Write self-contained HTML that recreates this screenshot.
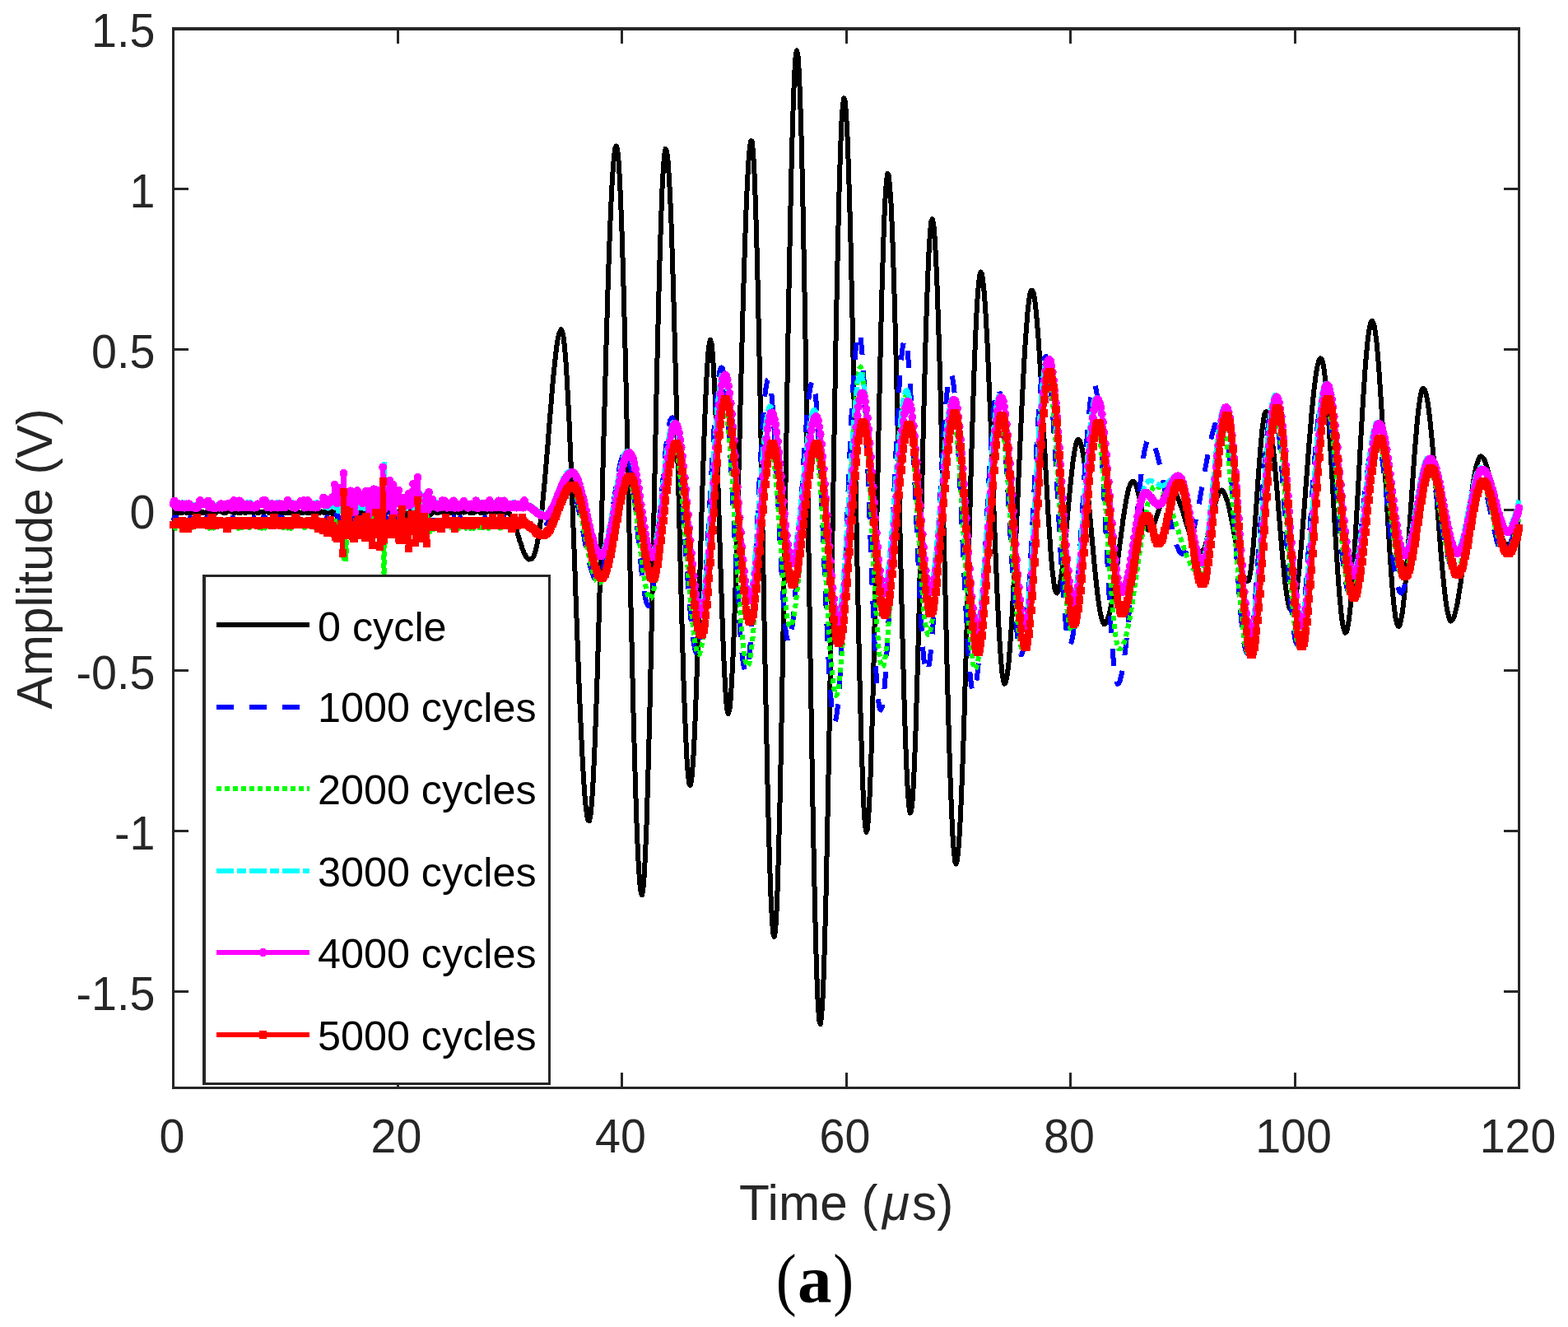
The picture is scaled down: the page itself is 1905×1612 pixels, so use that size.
<!DOCTYPE html>
<html lang="en">
<head>
<meta charset="utf-8">
<title>Amplitude vs. Time</title>
<style>
html,body{margin:0;padding:0;background:#fff;}
body{width:1905px;height:1612px;overflow:hidden;}
svg{display:block;}
</style>
</head>
<body>
<svg width="1905" height="1612" viewBox="0 0 1905 1612" role="img" aria-label="Amplitude (V) versus Time for 0 to 5000 cycles">
<defs>
<marker id="mc" markerUnits="userSpaceOnUse" markerWidth="12" markerHeight="12" refX="6" refY="6"><circle cx="6" cy="6" r="5" fill="#ff00ff" shape-rendering="crispEdges"/></marker>
<marker id="ms" markerUnits="userSpaceOnUse" markerWidth="12" markerHeight="12" refX="6" refY="6"><rect x="1.3" y="1.3" width="9.4" height="9.4" fill="#ff0000" shape-rendering="crispEdges"/></marker>
</defs>
<rect width="1905" height="1612" fill="#ffffff"/>
<g fill="none" stroke="#262626" stroke-width="3" shape-rendering="crispEdges">
<rect x="210.5" y="34.5" width="1635.0" height="1287.0"/>
<path d="M210.5 1321.5v-18.5M210.5 34.5v18.5M483.0 1321.5v-18.5M483.0 34.5v18.5M755.5 1321.5v-18.5M755.5 34.5v18.5M1028.0 1321.5v-18.5M1028.0 34.5v18.5M1300.5 1321.5v-18.5M1300.5 34.5v18.5M1573.0 1321.5v-18.5M1573.0 34.5v18.5M1845.5 1321.5v-18.5M1845.5 34.5v18.5M210.5 34.5h18.5M1845.5 34.5h-18.5M210.5 229.5h18.5M1845.5 229.5h-18.5M210.5 424.5h18.5M1845.5 424.5h-18.5M210.5 619.5h18.5M1845.5 619.5h-18.5M210.5 814.5h18.5M1845.5 814.5h-18.5M210.5 1009.5h18.5M1845.5 1009.5h-18.5M210.5 1204.5h18.5M1845.5 1204.5h-18.5"/>
<path d="M209.0 36.5H1847.0" stroke-width="1"/>
</g>
<g fill="none" stroke-linejoin="round" shape-rendering="crispEdges">
<polyline stroke="#000000" stroke-width="6" points="210.5,621.6 211.9,621.4 213.2,623.0 214.6,622.9 215.9,621.5 217.3,623.0 218.7,621.5 220.0,622.9 221.4,623.1 222.8,621.4 224.1,621.2 225.5,621.3 226.8,623.0 228.2,622.8 229.6,621.8 230.9,623.2 232.3,621.4 233.7,623.0 235.0,622.9 236.4,621.2 237.8,623.2 239.1,623.0 240.5,621.3 241.8,623.2 243.2,622.7 244.6,622.9 245.9,621.7 247.3,623.0 248.7,623.0 250.0,622.9 251.4,621.7 252.7,621.6 254.1,621.5 255.5,622.9 256.8,622.7 258.2,621.8 259.6,621.4 260.9,621.6 262.3,623.0 263.6,621.5 265.0,621.5 266.4,621.3 267.7,621.4 269.1,621.7 270.4,621.3 271.8,623.1 273.2,623.0 274.5,622.8 275.9,621.4 277.3,621.4 278.6,621.3 280.0,621.4 281.4,621.7 282.7,622.7 284.1,621.7 285.4,622.9 286.8,621.3 288.2,622.6 289.5,622.6 290.9,622.8 292.2,623.0 293.6,621.5 295.0,621.3 296.3,621.4 297.7,623.2 299.1,621.7 300.4,621.6 301.8,621.5 303.1,621.7 304.5,621.5 305.9,621.7 307.2,623.0 308.6,622.8 310.0,621.7 311.3,621.7 312.7,623.0 314.1,621.7 315.4,622.7 316.8,621.5 318.1,621.7 319.5,623.1 320.9,621.8 322.2,621.6 323.6,621.2 324.9,621.3 326.3,622.8 327.7,621.6 329.0,621.6 330.4,623.2 331.8,623.1 333.1,623.1 334.5,621.4 335.9,621.7 337.2,621.5 338.6,621.2 339.9,621.7 341.3,623.2 342.7,622.7 344.0,622.6 345.4,621.5 346.8,623.0 348.1,621.5 349.5,622.7 350.8,621.7 352.2,623.1 353.6,621.7 354.9,621.7 356.3,621.3 357.6,622.8 359.0,621.5 360.4,623.1 361.7,621.8 363.1,623.1 364.5,622.8 365.8,622.9 367.2,622.9 368.6,622.9 369.9,621.6 371.3,621.3 372.6,623.1 374.0,621.7 375.4,623.1 376.7,621.8 378.1,622.9 379.4,621.5 380.8,621.7 382.2,621.4 383.5,623.0 384.9,622.9 386.3,623.1 387.6,621.5 389.0,622.6 390.4,621.4 391.7,621.7 393.1,622.6 394.4,623.3 395.8,621.8 397.2,619.7 398.5,619.8 399.9,622.8 401.2,622.0 402.6,621.3 404.0,624.2 405.3,621.7 406.7,622.7 408.1,622.5 409.4,627.3 410.8,622.1 412.1,620.4 413.5,617.6 414.9,619.6 416.2,623.2 417.6,624.1 419.0,627.3 420.3,626.2 421.7,625.6 423.1,623.8 424.4,625.9 425.8,622.4 427.1,624.9 428.5,626.1 429.9,622.8 431.2,625.2 432.6,624.0 433.9,621.7 435.3,627.0 436.7,622.0 438.0,621.1 439.4,620.2 440.8,621.0 442.1,625.8 443.5,620.1 444.9,624.5 446.2,623.4 447.6,620.8 448.9,625.7 450.3,622.1 451.7,621.3 453.0,619.7 454.4,626.5 455.8,623.4 457.1,617.0 458.5,621.0 459.8,624.2 461.2,619.8 462.6,622.5 463.9,627.9 465.3,619.0 466.6,618.9 468.0,621.7 469.4,618.9 470.7,620.6 472.1,619.4 473.5,622.7 474.8,617.4 476.2,621.6 477.6,622.3 478.9,623.1 480.3,627.5 481.6,627.1 483.0,622.1 484.4,625.0 485.7,619.8 487.1,625.2 488.4,625.8 489.8,624.9 491.2,624.4 492.5,628.2 493.9,622.4 495.3,623.3 496.6,625.2 498.0,621.5 499.4,621.1 500.7,622.8 502.1,623.9 503.4,621.9 504.8,619.3 506.2,620.3 507.5,620.9 508.9,624.6 510.2,618.0 511.6,628.1 513.0,621.0 514.3,622.0 515.7,622.5 517.1,623.7 518.4,619.8 519.8,620.8 521.1,626.1 522.5,625.7 523.9,624.5 525.2,623.1 526.6,621.2 528.0,621.5 529.3,621.5 530.7,623.0 532.0,621.5 533.4,622.7 534.8,621.6 536.1,621.6 537.5,621.7 538.9,621.5 540.2,623.1 541.6,623.1 543.0,622.6 544.3,621.5 545.7,623.0 547.0,621.4 548.4,622.9 549.8,623.1 551.1,623.0 552.5,622.8 553.9,621.8 555.2,621.4 556.6,623.2 557.9,621.3 559.3,622.8 560.7,621.4 562.0,621.8 563.4,622.6 564.8,621.3 566.1,621.7 567.5,621.3 568.8,621.5 570.2,622.9 571.6,622.9 572.9,621.7 574.3,622.9 575.6,622.8 577.0,621.2 578.4,621.7 579.7,621.3 581.1,621.4 582.5,621.4 583.8,623.0 585.2,622.7 586.5,622.7 587.9,621.5 589.3,623.0 590.6,622.6 592.0,621.5 593.4,621.2 594.7,621.5 596.1,621.2 597.5,621.6 598.8,623.2 600.2,623.1 601.5,622.9 602.9,621.2 604.3,621.6 605.6,622.6 607.0,621.4 608.4,621.7 609.7,621.4 611.1,621.8 612.4,621.6 613.8,621.5 615.2,622.7 616.5,622.2 617.9,623.2 619.2,624.3 620.6,626.3 622.0,628.9 623.3,632.0 624.7,635.2 626.1,639.1 627.4,643.4 628.8,647.9 630.1,652.5 631.5,657.2 632.9,661.0 634.2,665.1 635.6,669.2 637.0,672.6 638.3,674.5 639.7,677.2 641.0,678.2 642.4,679.6 643.8,678.9 645.1,679.2 646.5,678.3 647.9,676.6 649.2,673.9 650.6,669.6 652.0,663.9 653.3,656.9 654.7,648.1 656.0,639.1 657.4,628.1 658.8,616.0 660.1,601.7 661.5,587.6 662.9,571.4 664.2,556.0 665.6,539.4 666.9,521.9 668.3,505.2 669.7,488.5 671.0,472.0 672.4,456.6 673.8,443.5 675.1,430.6 676.5,419.7 677.8,411.4 679.2,405.6 680.6,401.8 681.9,400.1 683.3,403.1 684.6,409.5 686.0,421.9 687.4,438.0 688.7,459.1 690.1,484.6 691.5,511.8 692.8,543.8 694.2,577.4 695.5,613.8 696.9,651.0 698.3,687.9 699.6,726.3 701.0,764.8 702.4,800.7 703.7,835.5 705.1,869.1 706.5,898.7 707.8,925.0 709.2,948.4 710.5,967.2 711.9,981.8 713.3,991.9 714.6,996.6 716.0,997.3 717.4,991.4 718.7,978.0 720.1,958.9 721.4,932.7 722.8,901.4 724.2,864.8 725.5,825.0 726.9,779.0 728.2,731.3 729.6,681.1 731.0,629.2 732.3,576.4 733.7,523.7 735.1,472.7 736.4,422.7 737.8,376.3 739.1,332.1 740.5,293.7 741.9,258.7 743.2,230.2 744.6,207.3 746.0,190.2 747.3,180.4 748.7,177.4 750.0,180.7 751.4,193.7 752.8,215.8 754.1,244.3 755.5,280.7 756.9,324.5 758.2,373.4 759.6,426.6 761.0,485.0 762.3,545.1 763.7,608.1 765.0,670.6 766.4,733.0 767.8,792.2 769.1,850.3 770.5,902.4 771.9,950.9 773.2,992.1 774.6,1027.5 775.9,1053.8 777.3,1073.1 778.7,1084.4 780.0,1087.2 781.4,1079.5 782.8,1062.8 784.1,1036.5 785.5,1002.4 786.8,959.8 788.2,910.9 789.6,855.3 790.9,794.9 792.3,730.9 793.6,665.2 795.0,599.9 796.4,533.8 797.7,469.9 799.1,410.7 800.5,354.8 801.8,306.0 803.2,264.3 804.5,229.2 805.9,203.7 807.3,187.4 808.6,180.8 810.0,183.5 811.4,194.0 812.7,212.4 814.1,237.9 815.5,271.3 816.8,310.2 818.2,355.0 819.5,403.4 820.9,456.0 822.3,510.4 823.6,566.8 825.0,622.0 826.4,677.1 827.7,729.5 829.1,778.5 830.4,823.2 831.8,862.4 833.2,895.2 834.5,921.9 835.9,940.8 837.2,951.2 838.6,954.1 840.0,948.9 841.3,935.1 842.7,914.7 844.1,886.8 845.4,853.0 846.8,814.0 848.1,771.4 849.5,725.6 850.9,678.9 852.2,632.3 853.6,587.7 855.0,545.1 856.3,507.7 857.7,475.1 859.0,448.4 860.4,428.4 861.8,417.4 863.1,412.8 864.5,417.5 865.9,431.0 867.2,452.5 868.6,480.8 870.0,516.1 871.3,555.8 872.7,598.1 874.0,642.5 875.4,687.2 876.8,730.1 878.1,769.2 879.5,802.7 880.9,830.8 882.2,851.7 883.6,864.0 884.9,867.1 886.3,862.4 887.7,849.7 889.0,828.5 890.4,800.7 891.8,767.1 893.1,726.9 894.5,682.5 895.8,633.4 897.2,582.3 898.6,530.1 899.9,476.2 901.3,424.6 902.6,374.4 904.0,328.4 905.4,286.5 906.7,250.1 908.1,219.3 909.5,195.0 910.8,179.3 912.2,171.2 913.5,171.5 914.9,182.9 916.3,205.9 917.6,239.2 919.0,281.8 920.4,334.0 921.7,395.0 923.1,460.3 924.5,532.1 925.8,605.0 927.2,680.5 928.5,754.4 929.9,826.3 931.3,894.4 932.6,957.0 934.0,1011.7 935.4,1057.4 936.7,1093.8 938.1,1120.0 939.4,1134.6 940.8,1137.9 942.2,1128.9 943.5,1106.9 944.9,1073.2 946.2,1026.7 947.6,971.4 949.0,906.7 950.3,834.2 951.7,756.7 953.1,675.0 954.4,592.6 955.8,508.8 957.1,427.5 958.5,351.2 959.9,280.4 961.2,217.6 962.6,163.4 964.0,119.3 965.3,88.1 966.7,67.4 968.0,61.2 969.4,66.7 970.8,87.3 972.1,119.1 973.5,164.5 974.9,220.4 976.2,286.2 977.6,359.5 979.0,440.7 980.3,526.0 981.7,615.3 983.0,705.1 984.4,792.7 985.8,877.9 987.1,957.9 988.5,1030.2 989.9,1094.8 991.2,1149.0 992.6,1192.3 993.9,1222.5 995.3,1240.0 996.7,1244.4 998.0,1235.6 999.4,1215.1 1000.8,1183.4 1002.1,1140.3 1003.5,1088.5 1004.8,1026.8 1006.2,958.1 1007.6,883.1 1008.9,803.3 1010.3,722.4 1011.6,639.7 1013.0,556.9 1014.4,478.3 1015.7,404.0 1017.1,334.9 1018.5,274.2 1019.8,221.6 1021.2,179.1 1022.5,147.8 1023.9,127.6 1025.3,119.3 1026.6,122.3 1028.0,137.4 1029.4,162.9 1030.7,197.8 1032.1,242.1 1033.5,294.0 1034.8,353.5 1036.2,416.9 1037.5,485.1 1038.9,554.6 1040.3,624.3 1041.6,692.7 1043.0,758.2 1044.3,818.9 1045.7,873.4 1047.1,919.6 1048.4,957.5 1049.8,986.6 1051.2,1004.6 1052.5,1010.8 1053.9,1006.9 1055.2,992.3 1056.6,966.6 1058.0,932.5 1059.3,889.3 1060.7,838.8 1062.1,781.4 1063.4,719.6 1064.8,654.9 1066.2,589.8 1067.5,524.1 1068.9,461.3 1070.2,402.8 1071.6,349.3 1073.0,302.8 1074.3,265.7 1075.7,237.6 1077.0,218.8 1078.4,210.8 1079.8,213.5 1081.1,226.6 1082.5,246.8 1083.9,277.2 1085.2,314.2 1086.6,359.3 1088.0,410.1 1089.3,464.3 1090.7,522.7 1092.0,583.3 1093.4,643.8 1094.8,703.2 1096.1,759.9 1097.5,812.5 1098.8,861.0 1100.2,902.1 1101.6,936.6 1102.9,962.2 1104.3,979.0 1105.7,987.6 1107.0,985.1 1108.4,974.8 1109.8,954.0 1111.1,925.2 1112.5,888.3 1113.8,844.7 1115.2,796.1 1116.6,742.1 1117.9,685.6 1119.3,626.9 1120.7,569.1 1122.0,512.5 1123.4,458.9 1124.7,409.5 1126.1,365.6 1127.5,329.1 1128.8,300.1 1130.2,279.5 1131.5,268.5 1132.9,266.2 1134.3,272.7 1135.6,288.1 1137.0,312.5 1138.4,343.4 1139.7,381.1 1141.1,424.4 1142.5,474.1 1143.8,527.1 1145.2,582.7 1146.5,640.0 1147.9,697.7 1149.3,755.9 1150.6,810.8 1152.0,862.2 1153.3,908.9 1154.7,950.8 1156.1,986.3 1157.4,1013.9 1158.8,1033.6 1160.2,1046.6 1161.5,1049.6 1162.9,1045.6 1164.2,1034.1 1165.6,1015.1 1167.0,990.8 1168.3,959.4 1169.7,923.5 1171.1,883.4 1172.4,838.3 1173.8,790.4 1175.2,740.1 1176.5,690.1 1177.9,639.2 1179.2,589.5 1180.6,541.9 1182.0,497.5 1183.3,456.0 1184.7,420.1 1186.0,389.3 1187.4,364.7 1188.8,346.6 1190.1,334.8 1191.5,330.5 1192.9,332.9 1194.2,340.6 1195.6,354.2 1197.0,371.9 1198.3,395.0 1199.7,420.8 1201.0,451.0 1202.4,484.8 1203.8,518.9 1205.1,555.6 1206.5,593.0 1207.8,629.6 1209.2,664.8 1210.6,698.5 1211.9,730.2 1213.3,757.8 1214.7,782.6 1216.0,801.5 1217.4,817.2 1218.8,825.7 1220.1,830.7 1221.5,829.5 1222.8,824.9 1224.2,816.1 1225.6,804.1 1226.9,787.3 1228.3,768.7 1229.7,745.5 1231.0,721.4 1232.4,694.6 1233.7,665.3 1235.1,635.9 1236.5,604.6 1237.8,573.6 1239.2,543.7 1240.5,513.9 1241.9,485.1 1243.3,457.7 1244.6,434.0 1246.0,411.5 1247.4,393.2 1248.7,377.0 1250.1,364.8 1251.5,356.7 1252.8,352.9 1254.2,352.9 1255.5,355.7 1256.9,362.3 1258.3,373.4 1259.6,387.5 1261.0,404.0 1262.3,422.5 1263.7,444.5 1265.1,468.6 1266.4,493.3 1267.8,519.4 1269.2,545.3 1270.5,571.1 1271.9,596.1 1273.2,619.7 1274.6,641.6 1276.0,662.7 1277.3,679.9 1278.7,695.1 1280.1,705.8 1281.4,714.8 1282.8,719.2 1284.2,720.4 1285.5,718.3 1286.9,713.7 1288.2,707.3 1289.6,698.1 1291.0,687.7 1292.3,675.9 1293.7,661.9 1295.0,647.8 1296.4,633.1 1297.8,618.0 1299.1,603.4 1300.5,588.7 1301.9,575.6 1303.2,563.5 1304.6,553.7 1306.0,545.3 1307.3,539.6 1308.7,534.9 1310.0,533.6 1311.4,534.7 1312.8,538.0 1314.1,543.0 1315.5,549.2 1316.8,557.9 1318.2,568.4 1319.6,579.6 1320.9,593.0 1322.3,605.9 1323.7,621.2 1325.0,635.3 1326.4,651.1 1327.8,666.2 1329.1,681.1 1330.5,695.0 1331.8,707.1 1333.2,719.9 1334.6,730.9 1335.9,739.9 1337.3,746.9 1338.7,752.9 1340.0,756.0 1341.4,758.3 1342.7,757.6 1344.1,756.7 1345.5,752.7 1346.8,749.3 1348.2,743.5 1349.5,737.9 1350.9,730.8 1352.3,722.0 1353.6,713.4 1355.0,703.0 1356.4,692.7 1357.7,683.1 1359.1,672.0 1360.5,661.0 1361.8,651.2 1363.2,641.3 1364.5,630.5 1365.9,622.1 1367.3,613.4 1368.6,605.5 1370.0,599.0 1371.3,593.5 1372.7,589.6 1374.1,586.5 1375.4,585.0 1376.8,584.7 1378.2,585.9 1379.5,588.3 1380.9,591.1 1382.2,596.5 1383.6,602.5 1385.0,608.0 1386.3,615.0 1387.7,622.1 1389.1,627.8 1390.4,633.5 1391.8,637.6 1393.2,641.8 1394.5,643.7 1395.9,643.8 1397.2,643.3 1398.6,641.8 1400.0,640.6 1401.3,638.5 1402.7,635.3 1404.0,631.0 1405.4,627.2 1406.8,622.8 1408.1,618.6 1409.5,614.1 1410.9,609.7 1412.2,606.1 1413.6,602.8 1415.0,599.5 1416.3,596.5 1417.7,594.0 1419.0,593.3 1420.4,591.7 1421.8,591.5 1423.1,592.3 1424.5,594.0 1425.8,595.4 1427.2,596.9 1428.6,599.2 1429.9,602.5 1431.3,605.5 1432.7,609.3 1434.0,612.7 1435.4,616.3 1436.8,620.5 1438.1,625.0 1439.5,629.8 1440.8,634.5 1442.2,638.7 1443.6,642.4 1444.9,647.7 1446.3,651.1 1447.7,654.9 1449.0,657.9 1450.4,661.1 1451.7,663.7 1453.1,666.5 1454.5,668.7 1455.8,669.4 1457.2,670.4 1458.5,670.7 1459.9,670.2 1461.3,668.9 1462.6,667.5 1464.0,664.4 1465.4,659.1 1466.7,654.2 1468.1,649.0 1469.5,642.8 1470.8,636.4 1472.2,630.8 1473.5,623.6 1474.9,617.6 1476.3,612.9 1477.6,607.6 1479.0,603.4 1480.3,600.1 1481.7,597.0 1483.1,596.8 1484.4,595.5 1485.8,596.5 1487.2,598.6 1488.5,601.7 1489.9,605.5 1491.2,608.8 1492.6,614.1 1494.0,619.8 1495.3,626.3 1496.7,634.0 1498.1,640.1 1499.4,647.9 1500.8,654.9 1502.2,661.9 1503.5,669.3 1504.9,676.0 1506.2,682.7 1507.6,688.8 1509.0,693.4 1510.3,697.7 1511.7,700.9 1513.0,703.3 1514.4,705.3 1515.8,705.9 1517.1,705.2 1518.5,699.3 1519.9,690.4 1521.2,678.6 1522.6,664.2 1524.0,647.1 1525.3,628.7 1526.7,609.6 1528.0,589.6 1529.4,570.2 1530.8,552.4 1532.1,536.2 1533.5,521.5 1534.8,511.6 1536.2,503.6 1537.6,500.3 1538.9,500.2 1540.3,502.5 1541.7,507.0 1543.0,514.2 1544.4,523.8 1545.8,535.1 1547.1,547.6 1548.5,560.6 1549.8,576.5 1551.2,592.2 1552.6,609.2 1553.9,626.1 1555.3,642.4 1556.7,658.7 1558.0,674.8 1559.4,688.8 1560.7,702.9 1562.1,714.6 1563.5,723.3 1564.8,732.0 1566.2,737.7 1567.5,740.1 1568.9,741.7 1570.3,740.3 1571.6,736.5 1573.0,731.7 1574.4,723.9 1575.7,714.7 1577.1,703.5 1578.5,690.7 1579.8,676.0 1581.2,660.6 1582.5,643.0 1583.9,625.9 1585.3,608.2 1586.6,590.0 1588.0,571.6 1589.3,554.1 1590.7,536.3 1592.1,519.8 1593.4,503.6 1594.8,489.6 1596.2,475.7 1597.5,464.8 1598.9,454.5 1600.2,446.3 1601.6,440.7 1603.0,436.3 1604.3,435.3 1605.7,436.0 1607.1,440.5 1608.4,447.1 1609.8,458.2 1611.2,472.0 1612.5,487.6 1613.9,507.0 1615.2,527.7 1616.6,549.4 1618.0,572.7 1619.3,596.6 1620.7,619.9 1622.0,643.4 1623.4,666.5 1624.8,687.6 1626.1,706.6 1627.5,724.4 1628.9,739.5 1630.2,751.7 1631.6,759.9 1633.0,765.7 1634.3,768.7 1635.7,767.8 1637.0,763.6 1638.4,755.8 1639.8,745.1 1641.1,732.2 1642.5,715.2 1643.8,696.7 1645.2,675.7 1646.6,653.4 1647.9,630.4 1649.3,605.9 1650.7,580.3 1652.0,555.9 1653.4,530.6 1654.8,507.0 1656.1,484.8 1657.5,464.1 1658.8,444.8 1660.2,428.7 1661.6,414.4 1662.9,403.7 1664.3,396.0 1665.7,391.0 1667.0,389.6 1668.4,392.0 1669.7,396.1 1671.1,404.4 1672.5,415.8 1673.8,430.4 1675.2,447.4 1676.5,466.6 1677.9,487.6 1679.3,509.4 1680.6,534.1 1682.0,557.8 1683.4,583.5 1684.7,607.3 1686.1,632.0 1687.5,654.9 1688.8,675.7 1690.2,696.2 1691.5,713.8 1692.9,729.7 1694.3,741.4 1695.6,751.1 1697.0,757.3 1698.3,760.3 1699.7,760.9 1701.1,758.1 1702.4,751.7 1703.8,744.0 1705.2,732.2 1706.5,719.7 1707.9,703.9 1709.2,687.0 1710.6,667.7 1712.0,648.6 1713.3,628.0 1714.7,607.6 1716.1,586.9 1717.4,567.3 1718.8,548.2 1720.2,530.9 1721.5,515.9 1722.9,501.2 1724.2,490.8 1725.6,481.8 1727.0,475.0 1728.3,472.0 1729.7,472.0 1731.0,473.6 1732.4,477.8 1733.8,484.2 1735.1,492.2 1736.5,503.6 1737.9,515.5 1739.2,528.6 1740.6,543.8 1742.0,560.4 1743.3,577.6 1744.7,594.9 1746.0,612.5 1747.4,630.5 1748.8,648.3 1750.1,665.8 1751.5,681.8 1752.8,696.3 1754.2,709.8 1755.6,722.8 1756.9,732.7 1758.3,741.9 1759.7,747.5 1761.0,752.7 1762.4,754.5 1763.8,753.7 1765.1,751.9 1766.5,750.0 1767.8,744.9 1769.2,739.5 1770.6,733.1 1771.9,725.1 1773.3,716.3 1774.7,707.2 1776.0,697.1 1777.4,686.3 1778.7,674.1 1780.1,662.5 1781.5,651.2 1782.8,639.9 1784.2,627.7 1785.5,617.1 1786.9,605.9 1788.3,596.9 1789.6,587.7 1791.0,579.6 1792.4,571.7 1793.7,565.3 1795.1,561.4 1796.5,557.4 1797.8,555.1 1799.2,554.4 1800.5,555.2 1801.9,556.5 1803.3,558.5 1804.6,561.5 1806.0,565.5 1807.3,570.2 1808.7,576.8 1810.1,582.9 1811.4,588.4 1812.8,596.0 1814.2,603.6 1815.5,610.3 1816.9,618.0 1818.2,624.1 1819.6,631.5 1821.0,638.0 1822.3,642.9 1823.7,648.2 1825.1,653.5 1826.4,656.2 1827.8,659.4 1829.2,661.6 1830.5,662.2 1831.9,662.2 1833.2,660.9 1834.6,660.1 1836.0,657.2 1837.3,654.9 1838.7,651.8 1840.0,648.5 1841.4,643.7 1842.8,639.5 1844.1,635.4 1845.5,630.6"/>
<polyline stroke="#0000ff" stroke-width="6" stroke-dasharray="21 19" points="210.5,632.5 211.9,628.3 213.2,632.6 214.6,628.4 215.9,632.7 217.3,632.3 218.7,632.7 220.0,628.4 221.4,627.9 222.8,632.5 224.1,632.7 225.5,628.4 226.8,632.7 228.2,632.7 229.6,632.4 230.9,628.4 232.3,632.6 233.7,632.5 235.0,632.4 236.4,632.7 237.8,632.4 239.1,627.9 240.5,628.2 241.8,632.5 243.2,632.8 244.6,632.4 245.9,632.4 247.3,632.6 248.7,632.4 250.0,632.4 251.4,628.2 252.7,632.5 254.1,632.9 255.5,627.9 256.8,632.4 258.2,632.7 259.6,632.5 260.9,628.3 262.3,628.2 263.6,632.4 265.0,632.7 266.4,632.7 267.7,632.6 269.1,632.6 270.4,632.4 271.8,632.7 273.2,632.4 274.5,632.5 275.9,632.7 277.3,632.5 278.6,632.8 280.0,632.4 281.4,632.8 282.7,628.4 284.1,632.8 285.4,632.4 286.8,632.6 288.2,632.7 289.5,628.4 290.9,632.4 292.2,628.5 293.6,627.9 295.0,632.6 296.3,632.5 297.7,632.8 299.1,632.5 300.4,632.4 301.8,632.3 303.1,632.4 304.5,632.9 305.9,632.7 307.2,632.8 308.6,628.4 310.0,632.3 311.3,628.1 312.7,632.8 314.1,632.4 315.4,632.8 316.8,628.5 318.1,632.7 319.5,628.1 320.9,632.4 322.2,628.2 323.6,632.7 324.9,632.8 326.3,632.6 327.7,632.7 329.0,632.8 330.4,628.1 331.8,632.8 333.1,632.7 334.5,632.5 335.9,632.5 337.2,632.8 338.6,628.4 339.9,628.4 341.3,632.7 342.7,628.4 344.0,632.7 345.4,632.6 346.8,632.7 348.1,632.7 349.5,632.4 350.8,628.4 352.2,632.8 353.6,632.6 354.9,632.4 356.3,632.6 357.6,628.0 359.0,632.3 360.4,632.5 361.7,628.5 363.1,632.6 364.5,632.6 365.8,628.5 367.2,632.5 368.6,632.7 369.9,632.8 371.3,632.6 372.6,628.0 374.0,632.7 375.4,632.6 376.7,632.4 378.1,632.8 379.4,632.7 380.8,632.5 382.2,628.3 383.5,632.3 384.9,632.7 386.3,628.3 387.6,632.8 389.0,632.7 390.4,632.3 391.7,632.6 393.1,631.9 394.4,630.8 395.8,634.6 397.2,627.8 398.5,629.5 399.9,635.2 401.2,627.9 402.6,626.3 404.0,626.4 405.3,629.2 406.7,632.8 408.1,631.1 409.4,624.0 410.8,627.0 412.1,636.6 413.5,633.9 414.9,628.9 416.2,628.4 417.6,637.2 419.0,625.9 420.3,642.0 421.7,639.1 423.1,622.0 424.4,622.2 425.8,630.2 427.1,630.7 428.5,629.3 429.9,631.7 431.2,628.5 432.6,628.4 433.9,636.5 435.3,634.5 436.7,639.9 438.0,629.0 439.4,628.0 440.8,628.0 442.1,636.5 443.5,637.9 444.9,634.3 446.2,624.8 447.6,618.7 448.9,626.4 450.3,632.6 451.7,628.2 453.0,637.5 454.4,632.5 455.8,632.9 457.1,632.5 458.5,630.3 459.8,628.6 461.2,638.5 462.6,629.4 463.9,640.2 465.3,638.5 466.6,634.5 468.0,625.0 469.4,632.5 470.7,632.2 472.1,629.5 473.5,641.4 474.8,623.7 476.2,629.1 477.6,624.9 478.9,639.2 480.3,628.9 481.6,629.2 483.0,629.4 484.4,629.3 485.7,622.7 487.1,626.0 488.4,626.7 489.8,638.0 491.2,643.3 492.5,634.8 493.9,638.6 495.3,629.7 496.6,625.6 498.0,628.0 499.4,639.4 500.7,637.5 502.1,642.8 503.4,626.0 504.8,635.0 506.2,632.9 507.5,633.0 508.9,644.3 510.2,637.5 511.6,628.2 513.0,634.9 514.3,630.2 515.7,641.2 517.1,637.7 518.4,621.9 519.8,626.3 521.1,628.6 522.5,634.2 523.9,631.7 525.2,635.1 526.6,632.0 528.0,632.5 529.3,632.8 530.7,632.5 532.0,632.8 533.4,632.4 534.8,632.4 536.1,632.4 537.5,632.4 538.9,632.7 540.2,632.6 541.6,632.3 543.0,632.4 544.3,632.9 545.7,632.7 547.0,632.6 548.4,632.7 549.8,632.3 551.1,628.0 552.5,632.6 553.9,632.8 555.2,632.5 556.6,632.6 557.9,632.8 559.3,628.3 560.7,632.4 562.0,632.8 563.4,632.6 564.8,632.5 566.1,632.5 567.5,628.4 568.8,632.3 570.2,632.8 571.6,632.4 572.9,632.8 574.3,632.9 575.6,632.7 577.0,632.7 578.4,632.5 579.7,632.3 581.1,632.9 582.5,632.8 583.8,632.4 585.2,632.5 586.5,632.6 587.9,632.4 589.3,628.3 590.6,632.4 592.0,632.7 593.4,632.4 594.7,628.2 596.1,632.9 597.5,632.8 598.8,632.3 600.2,632.6 601.5,632.7 602.9,632.8 604.3,632.4 605.6,632.5 607.0,632.4 608.4,632.5 609.7,632.3 611.1,632.5 612.4,628.0 613.8,632.8 615.2,632.9 616.5,632.6 617.9,632.5 619.2,632.8 620.6,632.8 622.0,632.4 623.3,632.9 624.7,632.5 626.1,632.8 627.4,628.3 628.8,632.3 630.1,632.2 631.5,632.1 632.9,632.8 634.2,633.2 635.6,633.1 637.0,634.6 638.3,634.9 639.7,635.8 641.0,636.9 642.4,637.5 643.8,638.3 645.1,639.0 646.5,639.6 647.9,640.6 649.2,641.4 650.6,641.4 652.0,642.5 653.3,642.1 654.7,642.8 656.0,643.5 657.4,642.6 658.8,643.1 660.1,641.8 661.5,640.9 662.9,638.6 664.2,636.6 665.6,634.5 666.9,632.3 668.3,629.7 669.7,626.2 671.0,622.9 672.4,619.3 673.8,616.0 675.1,612.8 676.5,609.6 677.8,605.6 679.2,602.8 680.6,599.4 681.9,596.6 683.3,593.9 684.6,592.3 686.0,590.8 687.4,589.3 688.7,588.3 690.1,588.2 691.5,587.7 692.8,588.8 694.2,590.2 695.5,593.2 696.9,595.7 698.3,599.9 699.6,605.0 701.0,609.8 702.4,616.3 703.7,622.2 705.1,628.7 706.5,636.2 707.8,643.4 709.2,650.3 710.5,657.4 711.9,665.2 713.3,671.3 714.6,677.9 716.0,683.4 717.4,688.8 718.7,693.2 720.1,697.0 721.4,700.9 722.8,703.1 724.2,704.2 725.5,704.9 726.9,704.7 728.2,702.6 729.6,700.6 731.0,697.2 732.3,692.0 733.7,685.9 735.1,678.7 736.4,671.6 737.8,663.5 739.1,654.8 740.5,645.8 741.9,635.6 743.2,625.8 744.6,617.2 746.0,607.2 747.3,598.4 748.7,589.3 750.0,581.5 751.4,573.6 752.8,567.1 754.1,561.1 755.5,556.7 756.9,552.7 758.2,550.4 759.6,548.2 761.0,547.7 762.3,549.4 763.7,553.7 765.0,560.0 766.4,568.3 767.8,577.9 769.1,590.0 770.5,602.1 771.9,615.4 773.2,630.3 774.6,645.2 775.9,659.2 777.3,674.0 778.7,686.7 780.0,699.9 781.4,710.2 782.8,720.0 784.1,727.0 785.5,732.4 786.8,734.8 788.2,736.4 789.6,734.9 790.9,729.7 792.3,723.5 793.6,714.1 795.0,703.9 796.4,691.0 797.7,676.6 799.1,660.8 800.5,643.8 801.8,627.0 803.2,609.2 804.5,592.3 805.9,576.6 807.3,561.6 808.6,547.1 810.0,534.6 811.4,524.3 812.7,516.6 814.1,510.9 815.5,508.3 816.8,507.3 818.2,509.6 819.5,514.3 820.9,521.7 822.3,531.8 823.6,543.5 825.0,558.6 826.4,574.7 827.7,592.5 829.1,611.2 830.4,630.9 831.8,651.4 833.2,671.4 834.5,690.4 835.9,710.1 837.2,727.5 838.6,743.2 840.0,758.5 841.3,771.0 842.7,780.5 844.1,788.0 845.4,792.6 846.8,794.6 848.1,794.0 849.5,789.2 850.9,781.3 852.2,769.7 853.6,754.5 855.0,737.6 856.3,717.3 857.7,695.2 859.0,671.4 860.4,647.2 861.8,622.1 863.1,597.0 864.5,572.3 865.9,548.0 867.2,526.0 868.6,505.9 870.0,487.8 871.3,472.4 872.7,461.3 874.0,452.9 875.4,447.4 876.8,446.5 878.1,447.9 879.5,454.7 880.9,464.4 882.2,478.0 883.6,494.3 884.9,514.1 886.3,535.3 887.7,559.3 889.0,584.8 890.4,611.1 891.8,637.8 893.1,665.0 894.5,690.3 895.8,715.0 897.2,737.4 898.6,758.5 899.9,776.8 901.3,791.7 902.6,803.6 904.0,811.2 905.4,815.1 906.7,816.1 908.1,812.4 909.5,804.3 910.8,791.1 912.2,775.9 913.5,756.0 914.9,734.1 916.3,710.2 917.6,684.1 919.0,656.4 920.4,628.3 921.7,601.0 923.1,574.2 924.5,549.0 925.8,526.0 927.2,506.7 928.5,489.7 929.9,475.4 931.3,466.8 932.6,461.4 934.0,460.5 935.4,463.8 936.7,472.8 938.1,486.4 939.4,503.7 940.8,525.0 942.2,547.9 943.5,574.4 944.9,602.0 946.2,630.2 947.6,658.7 949.0,685.4 950.3,709.8 951.7,731.5 953.1,750.0 954.4,764.5 955.8,773.7 957.1,779.4 958.5,780.2 959.9,776.1 961.2,770.0 962.6,760.4 964.0,748.5 965.3,732.9 966.7,715.1 968.0,695.9 969.4,675.2 970.8,653.0 972.1,629.6 973.5,607.6 974.9,584.2 976.2,562.0 977.6,542.1 979.0,523.2 980.3,506.2 981.7,491.1 983.0,479.2 984.4,471.3 985.8,465.4 987.1,462.5 988.5,464.8 989.9,471.1 991.2,483.6 992.6,500.7 993.9,521.4 995.3,546.6 996.7,575.3 998.0,605.4 999.4,638.2 1000.8,670.7 1002.1,704.6 1003.5,736.3 1004.8,767.1 1006.2,795.8 1007.6,820.3 1008.9,840.5 1010.3,857.8 1011.6,869.0 1013.0,875.6 1014.4,876.5 1015.7,872.6 1017.1,864.8 1018.5,850.7 1019.8,832.6 1021.2,811.4 1022.5,785.1 1023.9,756.9 1025.3,725.6 1026.6,692.7 1028.0,659.9 1029.4,625.1 1030.7,591.3 1032.1,557.8 1033.5,526.8 1034.8,497.7 1036.2,472.8 1037.5,449.5 1038.9,432.3 1040.3,418.5 1041.6,408.3 1043.0,404.1 1044.3,404.8 1045.7,411.3 1047.1,424.4 1048.4,442.5 1049.8,466.0 1051.2,493.0 1052.5,523.7 1053.9,558.0 1055.2,593.7 1056.6,630.6 1058.0,668.1 1059.3,704.8 1060.7,738.2 1062.1,770.8 1063.4,798.6 1064.8,822.4 1066.2,840.6 1067.5,853.6 1068.9,861.6 1070.2,862.4 1071.6,859.3 1073.0,851.5 1074.3,838.5 1075.7,821.8 1077.0,800.3 1078.4,776.9 1079.8,749.0 1081.1,719.7 1082.5,688.8 1083.9,656.9 1085.2,623.2 1086.6,591.0 1088.0,560.2 1089.3,529.8 1090.7,502.4 1092.0,477.5 1093.4,457.1 1094.8,439.3 1096.1,425.4 1097.5,417.3 1098.8,412.8 1100.2,412.7 1101.6,418.2 1102.9,429.9 1104.3,445.6 1105.7,465.4 1107.0,489.2 1108.4,516.9 1109.8,547.7 1111.1,579.1 1112.5,611.7 1113.8,644.4 1115.2,675.9 1116.6,706.9 1117.9,734.4 1119.3,759.7 1120.7,780.3 1122.0,797.0 1123.4,809.1 1124.7,816.0 1126.1,817.2 1127.5,814.7 1128.8,807.6 1130.2,797.3 1131.5,783.7 1132.9,767.2 1134.3,748.4 1135.6,726.0 1137.0,702.2 1138.4,676.9 1139.7,651.7 1141.1,625.6 1142.5,598.9 1143.8,573.3 1145.2,550.0 1146.5,527.9 1147.9,507.4 1149.3,490.2 1150.6,475.9 1152.0,465.2 1153.3,458.1 1154.7,454.9 1156.1,454.6 1157.4,460.3 1158.8,469.4 1160.2,483.0 1161.5,501.3 1162.9,521.9 1164.2,546.7 1165.6,573.9 1167.0,602.5 1168.3,632.2 1169.7,661.9 1171.1,691.8 1172.4,720.6 1173.8,746.9 1175.2,772.2 1176.5,793.6 1177.9,811.2 1179.2,825.3 1180.6,835.5 1182.0,839.5 1183.3,840.4 1184.7,837.7 1186.0,829.5 1187.4,819.4 1188.8,804.7 1190.1,787.2 1191.5,766.8 1192.9,744.6 1194.2,720.3 1195.6,695.0 1197.0,668.7 1198.3,641.7 1199.7,614.7 1201.0,589.6 1202.4,565.9 1203.8,542.8 1205.1,523.5 1206.5,505.9 1207.8,492.1 1209.2,481.9 1210.6,475.5 1211.9,472.2 1213.3,472.6 1214.7,477.5 1216.0,484.9 1217.4,497.0 1218.8,511.2 1220.1,528.1 1221.5,547.9 1222.8,569.1 1224.2,592.1 1225.6,616.1 1226.9,640.5 1228.3,663.9 1229.7,688.2 1231.0,710.2 1232.4,729.8 1233.7,749.0 1235.1,763.9 1236.5,777.3 1237.8,786.0 1239.2,792.9 1240.5,795.4 1241.9,793.8 1243.3,789.0 1244.6,780.4 1246.0,768.1 1247.4,752.4 1248.7,734.6 1250.1,713.9 1251.5,690.6 1252.8,666.5 1254.2,640.2 1255.5,614.2 1256.9,588.3 1258.3,562.2 1259.6,538.2 1261.0,515.3 1262.3,493.7 1263.7,475.6 1265.1,460.8 1266.4,448.1 1267.8,438.8 1269.2,434.7 1270.5,432.7 1271.9,435.4 1273.2,442.0 1274.6,451.3 1276.0,464.1 1277.3,479.0 1278.7,497.8 1280.1,518.4 1281.4,542.0 1282.8,565.1 1284.2,590.0 1285.5,615.9 1286.9,641.1 1288.2,665.5 1289.6,688.5 1291.0,710.5 1292.3,729.5 1293.7,745.8 1295.0,760.7 1296.4,770.6 1297.8,779.2 1299.1,782.5 1300.5,782.8 1301.9,779.2 1303.2,773.6 1304.6,763.6 1306.0,751.4 1307.3,735.7 1308.7,719.1 1310.0,699.9 1311.4,678.7 1312.8,656.9 1314.1,633.9 1315.5,611.0 1316.8,588.7 1318.2,566.1 1319.6,545.7 1320.9,527.3 1322.3,510.3 1323.7,496.1 1325.0,484.1 1326.4,475.3 1327.8,469.6 1329.1,466.7 1330.5,468.6 1331.8,473.9 1333.2,482.4 1334.6,495.5 1335.9,512.0 1337.3,531.8 1338.7,553.1 1340.0,577.4 1341.4,604.2 1342.7,630.9 1344.1,657.7 1345.5,684.5 1346.8,710.5 1348.2,735.6 1349.5,759.3 1350.9,778.8 1352.3,797.2 1353.6,810.5 1355.0,821.8 1356.4,827.7 1357.7,830.8 1359.1,830.2 1360.5,827.3 1361.8,822.6 1363.2,816.7 1364.5,808.6 1365.9,799.9 1367.3,788.4 1368.6,776.2 1370.0,762.4 1371.3,748.0 1372.7,733.2 1374.1,717.2 1375.4,700.7 1376.8,684.2 1378.2,667.5 1379.5,649.9 1380.9,634.1 1382.2,618.3 1383.6,604.5 1385.0,589.9 1386.3,578.1 1387.7,566.1 1389.1,556.3 1390.4,548.2 1391.8,542.4 1393.2,536.8 1394.5,533.7 1395.9,533.3 1397.2,533.0 1398.6,534.5 1400.0,536.2 1401.3,539.0 1402.7,542.0 1404.0,545.6 1405.4,550.0 1406.8,555.9 1408.1,560.8 1409.5,566.9 1410.9,573.8 1412.2,581.0 1413.6,587.3 1415.0,594.5 1416.3,601.8 1417.7,609.2 1419.0,617.0 1420.4,623.7 1421.8,630.5 1423.1,636.8 1424.5,643.0 1425.8,648.9 1427.2,654.6 1428.6,659.4 1429.9,663.4 1431.3,666.1 1432.7,669.7 1434.0,671.0 1435.4,672.3 1436.8,673.0 1438.1,672.3 1439.5,671.9 1440.8,670.9 1442.2,667.7 1443.6,665.9 1444.9,661.7 1446.3,657.5 1447.7,653.3 1449.0,647.6 1450.4,642.3 1451.7,636.8 1453.1,629.8 1454.5,623.6 1455.8,616.0 1457.2,609.3 1458.5,601.8 1459.9,594.1 1461.3,586.3 1462.6,578.4 1464.0,570.7 1465.4,563.7 1466.7,556.3 1468.1,549.8 1469.5,542.2 1470.8,535.8 1472.2,530.1 1473.5,524.8 1474.9,519.9 1476.3,515.2 1477.6,510.7 1479.0,507.1 1480.3,505.0 1481.7,502.1 1483.1,501.4 1484.4,500.4 1485.8,500.6 1487.2,502.2 1488.5,507.4 1489.9,515.6 1491.2,525.7 1492.6,539.8 1494.0,554.9 1495.3,572.3 1496.7,590.4 1498.1,610.7 1499.4,631.3 1500.8,652.5 1502.2,673.5 1503.5,694.6 1504.9,713.4 1506.2,731.6 1507.6,747.7 1509.0,761.9 1510.3,773.3 1511.7,783.2 1513.0,789.4 1514.4,792.5 1515.8,793.7 1517.1,790.4 1518.5,786.3 1519.9,778.1 1521.2,768.2 1522.6,755.2 1524.0,740.0 1525.3,723.9 1526.7,705.6 1528.0,686.7 1529.4,666.0 1530.8,646.3 1532.1,625.7 1533.5,605.1 1534.8,585.2 1536.2,566.9 1537.6,549.2 1538.9,534.2 1540.3,520.5 1541.7,508.5 1543.0,499.9 1544.4,492.7 1545.8,489.8 1547.1,488.6 1548.5,489.8 1549.8,495.6 1551.2,503.3 1552.6,514.4 1553.9,527.0 1555.3,542.9 1556.7,561.1 1558.0,579.7 1559.4,599.9 1560.7,621.1 1562.1,641.7 1563.5,663.0 1564.8,683.9 1566.2,703.4 1567.5,721.8 1568.9,738.3 1570.3,752.0 1571.6,764.1 1573.0,773.9 1574.4,780.1 1575.7,783.2 1577.1,782.7 1578.5,780.9 1579.8,774.8 1581.2,767.0 1582.5,756.5 1583.9,744.5 1585.3,728.8 1586.6,712.1 1588.0,693.6 1589.3,674.6 1590.7,654.8 1592.1,633.6 1593.4,613.0 1594.8,592.2 1596.2,572.6 1597.5,553.9 1598.9,537.5 1600.2,521.9 1601.6,507.9 1603.0,496.7 1604.3,487.6 1605.7,481.8 1607.1,477.7 1608.4,477.1 1609.8,479.2 1611.2,482.5 1612.5,489.2 1613.9,496.5 1615.2,505.8 1616.6,517.8 1618.0,531.3 1619.3,544.6 1620.7,560.1 1622.0,576.2 1623.4,592.8 1624.8,608.2 1626.1,625.3 1627.5,640.3 1628.9,656.0 1630.2,670.3 1631.6,682.6 1633.0,693.0 1634.3,702.7 1635.7,710.5 1637.0,716.5 1638.4,719.3 1639.8,720.2 1641.1,720.0 1642.5,717.4 1643.8,713.4 1645.2,707.1 1646.6,699.8 1647.9,691.2 1649.3,680.3 1650.7,669.1 1652.0,658.1 1653.4,645.4 1654.8,632.8 1656.1,619.7 1657.5,605.9 1658.8,593.5 1660.2,582.1 1661.6,570.5 1662.9,560.5 1664.3,551.5 1665.7,542.6 1667.0,536.6 1668.4,531.7 1669.7,528.9 1671.1,527.8 1672.5,529.0 1673.8,530.5 1675.2,535.1 1676.5,540.9 1677.9,549.1 1679.3,557.8 1680.6,567.8 1682.0,578.9 1683.4,591.4 1684.7,604.2 1686.1,618.5 1687.5,631.1 1688.8,644.2 1690.2,656.9 1691.5,669.3 1692.9,681.2 1694.3,691.3 1695.6,700.3 1697.0,707.8 1698.3,713.0 1699.7,717.5 1701.1,719.7 1702.4,720.5 1703.8,718.7 1705.2,715.9 1706.5,712.0 1707.9,707.4 1709.2,701.2 1710.6,693.2 1712.0,685.5 1713.3,676.5 1714.7,666.1 1716.1,655.6 1717.4,646.2 1718.8,635.0 1720.2,625.6 1721.5,614.9 1722.9,605.6 1724.2,596.7 1725.6,588.3 1727.0,581.7 1728.3,575.6 1729.7,571.4 1731.0,567.7 1732.4,566.4 1733.8,565.8 1735.1,566.9 1736.5,568.5 1737.9,571.1 1739.2,575.2 1740.6,579.4 1742.0,585.5 1743.3,591.7 1744.7,598.9 1746.0,606.5 1747.4,614.2 1748.8,622.6 1750.1,629.8 1751.5,639.2 1752.8,646.7 1754.2,654.5 1755.6,661.4 1756.9,668.2 1758.3,674.5 1759.7,679.5 1761.0,683.4 1762.4,687.2 1763.8,689.3 1765.1,691.5 1766.5,690.6 1767.8,690.5 1769.2,688.7 1770.6,686.1 1771.9,682.0 1773.3,677.4 1774.7,672.0 1776.0,666.3 1777.4,659.7 1778.7,652.3 1780.1,645.6 1781.5,637.7 1782.8,630.0 1784.2,622.6 1785.5,615.9 1786.9,609.2 1788.3,602.8 1789.6,597.5 1791.0,592.6 1792.4,589.3 1793.7,585.3 1795.1,583.2 1796.5,582.7 1797.8,582.7 1799.2,582.9 1800.5,585.2 1801.9,587.5 1803.3,591.1 1804.6,596.1 1806.0,600.2 1807.3,605.9 1808.7,612.2 1810.1,618.9 1811.4,625.3 1812.8,631.6 1814.2,638.0 1815.5,644.7 1816.9,650.3 1818.2,656.1 1819.6,660.6 1821.0,664.5 1822.3,668.9 1823.7,670.8 1825.1,673.0 1826.4,674.0 1827.8,673.7 1829.2,672.8 1830.5,670.9 1831.9,669.1 1833.2,665.7 1834.6,662.8 1836.0,658.7 1837.3,653.8 1838.7,649.3 1840.0,644.3 1841.4,638.9 1842.8,634.5 1844.1,628.5 1845.5,623.2"/>
<polyline stroke="#00ff00" stroke-width="6" stroke-dasharray="6 4" points="210.5,638.2 211.9,637.8 213.2,641.9 214.6,638.3 215.9,637.8 217.3,637.9 218.7,638.1 220.0,638.0 221.4,641.6 222.8,638.2 224.1,638.0 225.5,638.2 226.8,637.8 228.2,638.0 229.6,638.2 230.9,641.6 232.3,641.8 233.7,637.9 235.0,638.1 236.4,637.9 237.8,638.0 239.1,638.1 240.5,637.9 241.8,638.0 243.2,638.1 244.6,637.9 245.9,637.9 247.3,637.8 248.7,638.0 250.0,638.0 251.4,637.8 252.7,638.3 254.1,641.6 255.5,637.7 256.8,637.9 258.2,641.4 259.6,641.6 260.9,637.9 262.3,641.4 263.6,638.0 265.0,637.8 266.4,641.8 267.7,638.2 269.1,638.1 270.4,637.8 271.8,638.3 273.2,638.2 274.5,638.1 275.9,638.0 277.3,638.2 278.6,638.0 280.0,638.0 281.4,641.5 282.7,638.1 284.1,637.7 285.4,638.1 286.8,638.2 288.2,638.3 289.5,641.7 290.9,637.7 292.2,638.1 293.6,641.4 295.0,638.3 296.3,638.0 297.7,637.8 299.1,638.1 300.4,637.8 301.8,638.1 303.1,641.4 304.5,637.7 305.9,637.9 307.2,638.3 308.6,637.9 310.0,637.7 311.3,638.1 312.7,637.7 314.1,637.9 315.4,641.4 316.8,641.5 318.1,641.6 319.5,637.9 320.9,638.0 322.2,641.5 323.6,637.9 324.9,637.9 326.3,638.0 327.7,637.9 329.0,637.7 330.4,637.8 331.8,637.9 333.1,638.1 334.5,638.1 335.9,638.0 337.2,637.7 338.6,638.0 339.9,638.3 341.3,638.1 342.7,637.8 344.0,641.4 345.4,638.3 346.8,638.0 348.1,637.8 349.5,641.5 350.8,638.0 352.2,638.1 353.6,641.8 354.9,638.1 356.3,638.0 357.6,637.9 359.0,638.1 360.4,638.3 361.7,638.3 363.1,637.8 364.5,638.0 365.8,638.0 367.2,637.7 368.6,638.0 369.9,641.3 371.3,638.1 372.6,641.6 374.0,638.0 375.4,638.0 376.7,637.7 378.1,638.1 379.4,638.0 380.8,637.9 382.2,638.1 383.5,641.6 384.9,637.9 386.3,637.8 387.6,638.1 389.0,637.8 390.4,637.8 391.7,637.9 393.1,640.8 394.4,641.0 395.8,637.9 397.2,638.3 398.5,640.1 399.9,643.8 401.2,642.7 402.6,639.5 404.0,640.6 405.3,645.8 406.7,629.9 408.1,639.8 409.4,636.4 410.8,642.4 412.1,633.6 413.5,640.5 414.9,649.9 416.2,635.1 417.6,681.0 419.0,639.6 420.3,682.0 421.7,639.1 423.1,643.4 424.4,632.9 425.8,650.7 427.1,642.5 428.5,646.1 429.9,638.7 431.2,636.8 432.6,638.6 433.9,649.1 435.3,648.8 436.7,649.0 438.0,634.7 439.4,639.9 440.8,645.3 442.1,645.3 443.5,632.8 444.9,642.8 446.2,631.9 447.6,638.1 448.9,627.7 450.3,637.8 451.7,628.6 453.0,633.6 454.4,646.9 455.8,647.8 457.1,637.9 458.5,642.4 459.8,644.5 461.2,643.1 462.6,641.7 463.9,638.5 465.3,654.0 466.6,700.0 468.0,639.6 469.4,637.4 470.7,642.7 472.1,635.9 473.5,633.2 474.8,632.1 476.2,632.2 477.6,634.8 478.9,644.7 480.3,646.5 481.6,646.3 483.0,647.8 484.4,633.3 485.7,643.1 487.1,647.1 488.4,634.5 489.8,641.6 491.2,645.3 492.5,633.9 493.9,634.2 495.3,629.6 496.6,644.2 498.0,642.8 499.4,638.8 500.7,641.6 502.1,643.5 503.4,642.3 504.8,643.6 506.2,641.1 507.5,625.1 508.9,636.2 510.2,629.3 511.6,646.7 513.0,628.8 514.3,630.4 515.7,634.6 517.1,643.8 518.4,626.1 519.8,633.9 521.1,636.1 522.5,646.1 523.9,635.4 525.2,642.8 526.6,643.2 528.0,638.1 529.3,637.8 530.7,638.2 532.0,638.1 533.4,638.2 534.8,638.1 536.1,641.3 537.5,637.9 538.9,638.1 540.2,641.7 541.6,641.7 543.0,638.0 544.3,638.2 545.7,637.9 547.0,637.8 548.4,641.3 549.8,638.0 551.1,638.0 552.5,638.3 553.9,641.7 555.2,641.8 556.6,638.2 557.9,641.9 559.3,637.9 560.7,638.1 562.0,638.2 563.4,638.2 564.8,637.9 566.1,641.7 567.5,638.0 568.8,638.1 570.2,637.9 571.6,641.8 572.9,637.9 574.3,638.1 575.6,641.7 577.0,638.1 578.4,637.9 579.7,638.0 581.1,638.2 582.5,641.4 583.8,638.3 585.2,638.0 586.5,641.3 587.9,638.1 589.3,637.9 590.6,637.8 592.0,637.9 593.4,641.8 594.7,638.2 596.1,638.0 597.5,638.2 598.8,638.2 600.2,638.2 601.5,638.0 602.9,637.7 604.3,638.2 605.6,637.9 607.0,641.5 608.4,641.5 609.7,638.3 611.1,637.9 612.4,637.8 613.8,638.2 615.2,637.9 616.5,638.2 617.9,638.1 619.2,637.9 620.6,641.9 622.0,637.8 623.3,638.2 624.7,637.8 626.1,637.8 627.4,641.6 628.8,641.8 630.1,638.2 631.5,637.8 632.9,637.5 634.2,638.4 635.6,638.5 637.0,638.5 638.3,639.6 639.7,639.4 641.0,640.3 642.4,640.5 643.8,641.6 645.1,643.0 646.5,643.3 647.9,643.6 649.2,644.5 650.6,645.6 652.0,645.8 653.3,647.1 654.7,646.6 656.0,648.0 657.4,647.9 658.8,648.3 660.1,647.8 661.5,647.2 662.9,646.5 664.2,645.9 665.6,643.4 666.9,641.4 668.3,639.7 669.7,637.0 671.0,633.9 672.4,630.5 673.8,626.6 675.1,623.3 676.5,619.3 677.8,615.4 679.2,611.5 680.6,607.5 681.9,604.2 683.3,601.2 684.6,598.6 686.0,595.7 687.4,594.6 688.7,592.4 690.1,591.4 691.5,590.8 692.8,589.7 694.2,590.8 695.5,592.1 696.9,593.4 698.3,596.1 699.6,600.6 701.0,605.2 702.4,610.2 703.7,615.5 705.1,621.9 706.5,627.9 707.8,635.0 709.2,642.4 710.5,650.0 711.9,656.5 713.3,664.6 714.6,670.4 716.0,678.1 717.4,683.3 718.7,689.6 720.1,694.6 721.4,699.1 722.8,702.1 724.2,705.1 725.5,706.5 726.9,708.2 728.2,707.5 729.6,707.6 731.0,705.5 732.3,702.1 733.7,699.6 735.1,694.4 736.4,688.8 737.8,683.1 739.1,676.3 740.5,669.6 741.9,662.7 743.2,655.3 744.6,647.0 746.0,639.3 747.3,631.4 748.7,623.5 750.0,615.7 751.4,608.6 752.8,602.0 754.1,596.6 755.5,591.1 756.9,587.4 758.2,583.4 759.6,581.1 761.0,579.4 762.3,578.8 763.7,578.7 765.0,581.2 766.4,585.8 767.8,590.9 769.1,598.6 770.5,607.5 771.9,616.4 773.2,627.6 774.6,638.4 775.9,650.3 777.3,661.3 778.7,673.0 780.0,683.8 781.4,693.3 782.8,702.8 784.1,710.8 785.5,717.2 786.8,722.4 788.2,725.9 789.6,727.3 790.9,726.9 792.3,723.6 793.6,719.7 795.0,713.1 796.4,705.2 797.7,694.1 799.1,683.0 800.5,671.5 801.8,657.5 803.2,644.0 804.5,629.7 805.9,615.5 807.3,601.8 808.6,589.0 810.0,577.5 811.4,566.2 812.7,557.3 814.1,549.2 815.5,544.0 816.8,540.3 818.2,538.9 819.5,539.7 820.9,541.9 822.3,548.5 823.6,556.0 825.0,565.6 826.4,577.9 827.7,591.2 829.1,606.6 830.4,623.8 831.8,640.9 833.2,658.8 834.5,675.9 835.9,693.6 837.2,711.1 838.6,727.6 840.0,743.0 841.3,756.1 842.7,768.6 844.1,778.3 845.4,785.7 846.8,791.7 848.1,793.9 849.5,795.0 850.9,791.9 852.2,785.9 853.6,777.5 855.0,765.8 856.3,751.5 857.7,734.4 859.0,716.3 860.4,695.8 861.8,673.6 863.1,651.2 864.5,629.8 865.9,606.9 867.2,585.0 868.6,564.7 870.0,546.5 871.3,529.0 872.7,514.7 874.0,503.2 875.4,493.7 876.8,488.1 878.1,485.7 879.5,486.1 880.9,489.8 882.2,496.9 883.6,506.8 884.9,520.5 886.3,536.3 887.7,554.4 889.0,574.4 890.4,596.4 891.8,618.4 893.1,642.3 894.5,666.0 895.8,687.9 897.2,710.3 898.6,732.0 899.9,749.9 901.3,767.7 902.6,781.8 904.0,792.7 905.4,801.9 906.7,806.5 908.1,809.4 909.5,807.3 910.8,803.4 912.2,795.6 913.5,783.9 914.9,770.8 916.3,754.6 917.6,737.6 919.0,717.4 920.4,697.0 921.7,676.0 923.1,655.8 924.5,634.5 925.8,614.9 927.2,596.8 928.5,580.5 929.9,566.3 931.3,555.4 932.6,546.1 934.0,540.8 935.4,539.0 936.7,539.3 938.1,543.8 939.4,552.3 940.8,562.5 942.2,576.7 943.5,592.3 944.9,609.4 946.2,628.1 947.6,647.3 949.0,667.7 950.3,686.2 951.7,703.9 953.1,719.9 954.4,733.9 955.8,746.1 957.1,753.6 958.5,759.3 959.9,761.1 961.2,759.9 962.6,756.4 964.0,750.6 965.3,742.6 966.7,733.6 968.0,722.1 969.4,708.7 970.8,694.1 972.1,679.7 973.5,663.0 974.9,646.8 976.2,631.3 977.6,615.9 979.0,600.7 980.3,586.2 981.7,574.6 983.0,562.7 984.4,553.7 985.8,547.3 987.1,542.1 988.5,539.3 989.9,538.2 991.2,542.4 992.6,549.0 993.9,559.4 995.3,574.6 996.7,592.0 998.0,610.8 999.4,633.3 1000.8,657.2 1002.1,680.9 1003.5,705.5 1004.8,730.4 1006.2,753.2 1007.6,775.6 1008.9,795.0 1010.3,811.9 1011.6,825.5 1013.0,835.2 1014.4,842.4 1015.7,845.0 1017.1,843.6 1018.5,838.3 1019.8,828.4 1021.2,815.0 1022.5,798.9 1023.9,778.1 1025.3,754.9 1026.6,730.7 1028.0,703.1 1029.4,675.1 1030.7,645.8 1032.1,616.8 1033.5,588.7 1034.8,562.3 1036.2,536.3 1037.5,514.0 1038.9,493.0 1040.3,476.7 1041.6,462.4 1043.0,453.0 1044.3,447.0 1045.7,445.6 1047.1,449.2 1048.4,456.9 1049.8,469.4 1051.2,485.5 1052.5,505.9 1053.9,529.4 1055.2,556.1 1056.6,583.1 1058.0,612.7 1059.3,642.8 1060.7,671.6 1062.1,699.3 1063.4,726.4 1064.8,749.0 1066.2,769.5 1067.5,786.1 1068.9,799.2 1070.2,807.9 1071.6,810.6 1073.0,809.7 1074.3,805.9 1075.7,797.2 1077.0,786.1 1078.4,773.0 1079.8,755.6 1081.1,737.2 1082.5,715.9 1083.9,694.0 1085.2,670.9 1086.6,646.5 1088.0,622.4 1089.3,599.3 1090.7,577.0 1092.0,555.1 1093.4,536.2 1094.8,519.5 1096.1,505.4 1097.5,493.9 1098.8,486.3 1100.2,481.0 1101.6,480.5 1102.9,482.3 1104.3,488.2 1105.7,497.8 1107.0,510.9 1108.4,527.1 1109.8,546.6 1111.1,566.7 1112.5,589.0 1113.8,612.9 1115.2,636.4 1116.6,659.5 1117.9,681.3 1119.3,702.3 1120.7,721.4 1122.0,737.5 1123.4,751.1 1124.7,761.1 1126.1,767.7 1127.5,771.2 1128.8,770.3 1130.2,766.6 1131.5,760.4 1132.9,751.7 1134.3,740.6 1135.6,726.3 1137.0,712.0 1138.4,694.6 1139.7,676.4 1141.1,658.2 1142.5,638.5 1143.8,618.6 1145.2,599.2 1146.5,581.4 1147.9,564.3 1149.3,548.7 1150.6,534.6 1152.0,523.6 1153.3,514.0 1154.7,508.0 1156.1,503.8 1157.4,502.4 1158.8,505.3 1160.2,510.8 1161.5,519.8 1162.9,532.9 1164.2,548.5 1165.6,567.4 1167.0,588.6 1168.3,611.0 1169.7,634.1 1171.1,657.6 1172.4,681.8 1173.8,705.2 1175.2,727.7 1176.5,748.7 1177.9,766.3 1179.2,782.7 1180.6,795.4 1182.0,805.1 1183.3,811.2 1184.7,812.9 1186.0,811.8 1187.4,806.8 1188.8,799.3 1190.1,788.9 1191.5,774.9 1192.9,759.6 1194.2,741.7 1195.6,721.6 1197.0,700.7 1198.3,679.5 1199.7,656.6 1201.0,634.2 1202.4,612.5 1203.8,592.0 1205.1,572.5 1206.5,554.9 1207.8,539.4 1209.2,526.4 1210.6,516.7 1211.9,509.7 1213.3,505.1 1214.7,504.9 1216.0,507.0 1217.4,513.5 1218.8,522.0 1220.1,532.5 1221.5,547.3 1222.8,563.2 1224.2,581.1 1225.6,601.7 1226.9,622.4 1228.3,643.6 1229.7,664.8 1231.0,686.2 1232.4,705.8 1233.7,724.8 1235.1,741.8 1236.5,757.0 1237.8,769.5 1239.2,778.6 1240.5,785.3 1241.9,789.4 1243.3,789.9 1244.6,786.6 1246.0,780.7 1247.4,770.8 1248.7,757.6 1250.1,741.5 1251.5,723.3 1252.8,702.1 1254.2,680.5 1255.5,656.1 1256.9,632.7 1258.3,607.8 1259.6,583.1 1261.0,559.5 1262.3,537.7 1263.7,517.0 1265.1,499.0 1266.4,482.5 1267.8,470.5 1269.2,460.3 1270.5,453.9 1271.9,451.4 1273.2,451.9 1274.6,455.7 1276.0,462.6 1277.3,472.9 1278.7,485.4 1280.1,501.2 1281.4,519.7 1282.8,538.4 1284.2,559.5 1285.5,582.5 1286.9,604.6 1288.2,627.5 1289.6,649.9 1291.0,671.5 1292.3,691.2 1293.7,710.2 1295.0,725.6 1296.4,740.5 1297.8,750.9 1299.1,759.4 1300.5,764.0 1301.9,766.3 1303.2,764.6 1304.6,761.0 1306.0,754.2 1307.3,746.0 1308.7,734.8 1310.0,721.0 1311.4,706.9 1312.8,690.9 1314.1,672.8 1315.5,654.7 1316.8,637.3 1318.2,619.1 1319.6,600.3 1320.9,584.1 1322.3,568.4 1323.7,553.3 1325.0,541.4 1326.4,530.4 1327.8,522.8 1329.1,516.7 1330.5,513.6 1331.8,512.7 1333.2,515.9 1334.6,521.5 1335.9,529.6 1337.3,540.5 1338.7,554.3 1340.0,570.4 1341.4,588.9 1342.7,607.7 1344.1,628.0 1345.5,648.4 1346.8,668.4 1348.2,689.0 1349.5,709.1 1350.9,727.1 1352.3,743.6 1353.6,757.8 1355.0,769.6 1356.4,779.0 1357.7,785.6 1359.1,788.4 1360.5,788.4 1361.8,787.9 1363.2,785.7 1364.5,783.3 1365.9,780.2 1367.3,775.4 1368.6,770.1 1370.0,763.9 1371.3,757.5 1372.7,750.4 1374.1,742.5 1375.4,734.6 1376.8,724.7 1378.2,715.7 1379.5,706.1 1380.9,697.5 1382.2,687.5 1383.6,677.9 1385.0,668.6 1386.3,658.3 1387.7,650.4 1389.1,641.0 1390.4,633.2 1391.8,625.2 1393.2,618.6 1394.5,611.6 1395.9,605.9 1397.2,601.0 1398.6,597.5 1400.0,594.0 1401.3,591.4 1402.7,590.3 1404.0,590.1 1405.4,590.0 1406.8,590.8 1408.1,592.0 1409.5,592.9 1410.9,594.6 1412.2,595.8 1413.6,598.6 1415.0,601.0 1416.3,603.2 1417.7,605.5 1419.0,608.7 1420.4,612.9 1421.8,616.6 1423.1,620.1 1424.5,623.7 1425.8,627.8 1427.2,631.3 1428.6,636.1 1429.9,640.8 1431.3,644.1 1432.7,648.8 1434.0,653.3 1435.4,657.2 1436.8,660.9 1438.1,664.7 1439.5,669.1 1440.8,673.0 1442.2,676.4 1443.6,679.1 1444.9,682.5 1446.3,685.4 1447.7,687.4 1449.0,690.2 1450.4,691.7 1451.7,693.1 1453.1,694.2 1454.5,696.1 1455.8,696.9 1457.2,696.4 1458.5,696.3 1459.9,694.6 1461.3,690.4 1462.6,684.8 1464.0,676.2 1465.4,666.9 1466.7,655.7 1468.1,643.2 1469.5,630.6 1470.8,616.4 1472.2,602.6 1473.5,589.1 1474.9,575.7 1476.3,563.1 1477.6,552.8 1479.0,542.9 1480.3,534.6 1481.7,528.3 1483.1,524.3 1484.4,521.9 1485.8,521.9 1487.2,525.1 1488.5,530.4 1489.9,536.7 1491.2,547.1 1492.6,557.7 1494.0,571.5 1495.3,585.8 1496.7,601.1 1498.1,618.0 1499.4,636.4 1500.8,654.5 1502.2,672.4 1503.5,690.0 1504.9,707.3 1506.2,724.0 1507.6,739.4 1509.0,753.3 1510.3,765.0 1511.7,776.0 1513.0,784.5 1514.4,790.2 1515.8,793.4 1517.1,795.1 1518.5,794.6 1519.9,790.6 1521.2,784.7 1522.6,775.4 1524.0,764.1 1525.3,749.9 1526.7,734.9 1528.0,718.0 1529.4,699.9 1530.8,680.5 1532.1,659.6 1533.5,639.6 1534.8,620.0 1536.2,599.2 1537.6,580.3 1538.9,562.7 1540.3,547.2 1541.7,532.3 1543.0,520.4 1544.4,510.5 1545.8,503.0 1547.1,497.1 1548.5,495.7 1549.8,496.4 1551.2,499.9 1552.6,506.6 1553.9,515.9 1555.3,527.6 1556.7,542.2 1558.0,558.2 1559.4,575.8 1560.7,595.4 1562.1,616.6 1563.5,636.8 1564.8,657.9 1566.2,679.0 1567.5,698.6 1568.9,717.4 1570.3,734.0 1571.6,749.1 1573.0,761.4 1574.4,771.8 1575.7,779.3 1577.1,784.4 1578.5,786.0 1579.8,784.2 1581.2,780.9 1582.5,773.5 1583.9,764.7 1585.3,752.6 1586.6,739.4 1588.0,723.4 1589.3,707.1 1590.7,687.8 1592.1,668.8 1593.4,648.2 1594.8,627.7 1596.2,608.0 1597.5,587.6 1598.9,569.0 1600.2,551.5 1601.6,535.8 1603.0,521.2 1604.3,508.2 1605.7,498.8 1607.1,492.1 1608.4,487.2 1609.8,484.6 1611.2,484.9 1612.5,487.9 1613.9,493.4 1615.2,499.6 1616.6,509.3 1618.0,519.2 1619.3,531.9 1620.7,545.5 1622.0,559.6 1623.4,575.4 1624.8,591.5 1626.1,607.3 1627.5,623.8 1628.9,639.8 1630.2,655.5 1631.6,669.0 1633.0,682.1 1634.3,694.3 1635.7,704.6 1637.0,712.8 1638.4,719.7 1639.8,723.2 1641.1,725.7 1642.5,725.7 1643.8,723.6 1645.2,720.4 1646.6,715.3 1647.9,708.4 1649.3,700.7 1650.7,691.5 1652.0,680.9 1653.4,668.4 1654.8,656.3 1656.1,644.3 1657.5,630.2 1658.8,617.2 1660.2,604.3 1661.6,593.0 1662.9,580.8 1664.3,569.9 1665.7,559.8 1667.0,552.3 1668.4,545.4 1669.7,539.6 1671.1,536.0 1672.5,533.5 1673.8,532.9 1675.2,534.0 1676.5,537.1 1677.9,541.4 1679.3,547.6 1680.6,554.5 1682.0,563.0 1683.4,573.6 1684.7,584.0 1686.1,595.0 1687.5,605.9 1688.8,617.7 1690.2,629.5 1691.5,641.2 1692.9,651.6 1694.3,662.1 1695.6,671.5 1697.0,680.2 1698.3,686.7 1699.7,692.0 1701.1,696.7 1702.4,700.0 1703.8,700.2 1705.2,700.3 1706.5,698.1 1707.9,695.5 1709.2,692.0 1710.6,686.4 1712.0,680.9 1713.3,674.3 1714.7,666.6 1716.1,659.0 1717.4,650.6 1718.8,641.1 1720.2,632.8 1721.5,624.0 1722.9,615.1 1724.2,606.8 1725.6,599.0 1727.0,592.1 1728.3,585.7 1729.7,579.8 1731.0,575.8 1732.4,572.5 1733.8,570.0 1735.1,569.5 1736.5,569.0 1737.9,570.6 1739.2,573.0 1740.6,576.5 1742.0,580.5 1743.3,586.4 1744.7,591.9 1746.0,599.3 1747.4,606.8 1748.8,615.0 1750.1,623.5 1751.5,632.1 1752.8,639.7 1754.2,648.9 1755.6,656.6 1756.9,664.3 1758.3,671.0 1759.7,678.5 1761.0,683.5 1762.4,688.4 1763.8,692.4 1765.1,695.2 1766.5,697.0 1767.8,697.7 1769.2,697.6 1770.6,696.0 1771.9,694.0 1773.3,690.7 1774.7,686.3 1776.0,680.4 1777.4,674.9 1778.7,668.4 1780.1,661.3 1781.5,653.4 1782.8,645.5 1784.2,638.5 1785.5,630.7 1786.9,622.8 1788.3,616.1 1789.6,608.7 1791.0,603.5 1792.4,598.3 1793.7,593.9 1795.1,589.3 1796.5,587.4 1797.8,585.9 1799.2,584.6 1800.5,585.6 1801.9,586.4 1803.3,588.6 1804.6,591.4 1806.0,595.4 1807.3,600.5 1808.7,605.2 1810.1,610.9 1811.4,617.0 1812.8,622.1 1814.2,629.2 1815.5,635.5 1816.9,641.3 1818.2,646.7 1819.6,652.0 1821.0,657.3 1822.3,661.6 1823.7,665.1 1825.1,668.5 1826.4,670.6 1827.8,671.4 1829.2,671.6 1830.5,671.5 1831.9,670.6 1833.2,668.7 1834.6,666.2 1836.0,663.3 1837.3,659.5 1838.7,654.9 1840.0,650.8 1841.4,645.8 1842.8,640.4 1844.1,635.1 1845.5,630.2"/>
<polyline stroke="#00ffff" stroke-width="6" stroke-dasharray="21 4 11 4" points="210.5,612.9 211.9,613.0 213.2,613.2 214.6,613.3 215.9,613.3 217.3,612.7 218.7,613.3 220.0,613.2 221.4,610.1 222.8,613.1 224.1,613.0 225.5,610.2 226.8,609.9 228.2,613.0 229.6,613.2 230.9,613.0 232.3,613.1 233.7,612.9 235.0,613.2 236.4,613.1 237.8,613.3 239.1,613.0 240.5,613.2 241.8,612.9 243.2,613.1 244.6,612.8 245.9,613.1 247.3,613.2 248.7,613.0 250.0,613.0 251.4,612.8 252.7,612.8 254.1,610.0 255.5,613.2 256.8,612.9 258.2,610.2 259.6,610.4 260.9,610.0 262.3,613.0 263.6,613.2 265.0,613.3 266.4,613.0 267.7,613.2 269.1,613.2 270.4,612.9 271.8,612.8 273.2,613.1 274.5,613.0 275.9,613.3 277.3,613.2 278.6,613.2 280.0,612.8 281.4,613.0 282.7,613.1 284.1,613.1 285.4,613.1 286.8,612.9 288.2,610.4 289.5,609.9 290.9,612.8 292.2,613.0 293.6,610.0 295.0,610.4 296.3,610.4 297.7,613.1 299.1,612.9 300.4,610.1 301.8,610.4 303.1,612.8 304.5,610.0 305.9,613.2 307.2,612.9 308.6,613.1 310.0,612.9 311.3,612.9 312.7,613.1 314.1,613.2 315.4,612.9 316.8,612.9 318.1,610.0 319.5,610.3 320.9,613.3 322.2,612.9 323.6,613.1 324.9,610.3 326.3,610.3 327.7,610.0 329.0,610.2 330.4,612.8 331.8,612.8 333.1,613.0 334.5,612.8 335.9,612.9 337.2,610.0 338.6,612.8 339.9,613.1 341.3,613.2 342.7,612.8 344.0,613.2 345.4,613.1 346.8,612.9 348.1,613.2 349.5,613.3 350.8,613.0 352.2,613.0 353.6,613.3 354.9,612.8 356.3,610.3 357.6,613.0 359.0,612.8 360.4,610.1 361.7,613.0 363.1,612.7 364.5,613.1 365.8,613.0 367.2,613.2 368.6,613.0 369.9,610.3 371.3,613.1 372.6,610.4 374.0,612.8 375.4,613.1 376.7,613.0 378.1,612.8 379.4,612.9 380.8,613.3 382.2,612.8 383.5,613.2 384.9,609.9 386.3,613.0 387.6,610.2 389.0,613.3 390.4,613.2 391.7,610.5 393.1,612.8 394.4,616.2 395.8,608.9 397.2,608.9 398.5,617.7 399.9,609.8 401.2,611.9 402.6,615.6 404.0,609.1 405.3,612.0 406.7,613.4 408.1,617.0 409.4,607.4 410.8,621.0 412.1,621.2 413.5,606.9 414.9,607.9 416.2,613.3 417.6,613.5 419.0,612.6 420.3,605.8 421.7,603.9 423.1,605.2 424.4,607.1 425.8,616.0 427.1,604.5 428.5,615.8 429.9,605.1 431.2,616.1 432.6,605.9 433.9,618.8 435.3,600.9 436.7,602.5 438.0,617.2 439.4,605.1 440.8,621.7 442.1,608.4 443.5,614.3 444.9,597.7 446.2,609.7 447.6,598.6 448.9,604.4 450.3,614.2 451.7,606.1 453.0,615.7 454.4,610.1 455.8,610.3 457.1,614.4 458.5,605.7 459.8,605.5 461.2,611.8 462.6,596.5 463.9,616.5 465.3,606.3 466.6,560.0 468.0,614.0 469.4,614.5 470.7,598.7 472.1,600.4 473.5,617.4 474.8,598.5 476.2,608.3 477.6,597.6 478.9,598.7 480.3,605.1 481.6,606.0 483.0,604.1 484.4,608.4 485.7,606.9 487.1,608.7 488.4,620.9 489.8,607.0 491.2,607.8 492.5,618.5 493.9,607.2 495.3,609.2 496.6,606.9 498.0,604.2 499.4,609.0 500.7,607.0 502.1,611.0 503.4,620.6 504.8,609.5 506.2,617.2 507.5,609.5 508.9,602.1 510.2,614.7 511.6,600.2 513.0,604.3 514.3,612.6 515.7,612.4 517.1,616.1 518.4,604.5 519.8,615.9 521.1,611.2 522.5,614.7 523.9,613.8 525.2,613.9 526.6,610.5 528.0,612.8 529.3,612.8 530.7,610.2 532.0,612.9 533.4,612.9 534.8,613.1 536.1,610.4 537.5,612.9 538.9,610.2 540.2,612.7 541.6,610.2 543.0,613.0 544.3,612.9 545.7,613.0 547.0,612.8 548.4,610.2 549.8,613.1 551.1,612.9 552.5,613.0 553.9,610.2 555.2,613.1 556.6,610.1 557.9,612.9 559.3,612.7 560.7,612.9 562.0,613.0 563.4,613.0 564.8,612.9 566.1,613.2 567.5,612.8 568.8,613.2 570.2,613.2 571.6,613.2 572.9,612.8 574.3,612.9 575.6,613.2 577.0,610.0 578.4,613.2 579.7,613.2 581.1,613.1 582.5,613.0 583.8,610.0 585.2,613.3 586.5,613.2 587.9,612.9 589.3,613.2 590.6,612.7 592.0,613.2 593.4,610.0 594.7,613.2 596.1,613.1 597.5,613.0 598.8,613.0 600.2,612.8 601.5,610.2 602.9,613.1 604.3,612.8 605.6,612.7 607.0,610.2 608.4,613.3 609.7,612.7 611.1,612.7 612.4,613.0 613.8,613.3 615.2,610.0 616.5,612.8 617.9,613.0 619.2,612.7 620.6,613.0 622.0,613.1 623.3,610.3 624.7,610.0 626.1,613.0 627.4,613.2 628.8,612.8 630.1,613.2 631.5,613.1 632.9,613.3 634.2,609.9 635.6,613.3 637.0,612.7 638.3,612.3 639.7,612.1 641.0,612.3 642.4,612.4 643.8,613.3 645.1,614.8 646.5,615.3 647.9,616.4 649.2,617.6 650.6,618.3 652.0,619.8 653.3,620.8 654.7,620.9 656.0,622.4 657.4,622.4 658.8,623.5 660.1,624.3 661.5,624.4 662.9,623.7 664.2,623.9 665.6,621.9 666.9,621.1 668.3,619.2 669.7,616.0 671.0,613.6 672.4,610.9 673.8,608.2 675.1,603.8 676.5,600.6 677.8,597.6 679.2,593.1 680.6,590.5 681.9,587.0 683.3,584.0 684.6,580.6 686.0,578.4 687.4,575.7 688.7,574.1 690.1,573.5 691.5,571.9 692.8,572.1 694.2,571.8 695.5,573.6 696.9,575.1 698.3,576.9 699.6,580.8 701.0,584.2 702.4,588.4 703.7,592.4 705.1,598.4 706.5,603.7 707.8,609.1 709.2,614.7 710.5,621.6 711.9,627.0 713.3,633.7 714.6,639.3 716.0,644.7 717.4,650.1 718.7,654.8 720.1,659.5 721.4,663.9 722.8,666.9 724.2,669.4 725.5,671.8 726.9,673.6 728.2,673.3 729.6,673.6 731.0,672.9 732.3,670.4 733.7,667.0 735.1,663.0 736.4,658.8 737.8,653.1 739.1,646.3 740.5,639.5 741.9,632.5 743.2,625.2 744.6,617.2 746.0,609.1 747.3,601.1 748.7,593.7 750.0,586.5 751.4,578.9 752.8,572.4 754.1,566.7 755.5,561.0 756.9,557.1 758.2,552.5 759.6,550.2 761.0,548.8 762.3,547.6 763.7,547.9 765.0,550.4 766.4,553.6 767.8,558.2 769.1,564.2 770.5,570.4 771.9,578.9 773.2,587.3 774.6,596.5 775.9,605.1 777.3,614.3 778.7,624.6 780.0,633.1 781.4,641.6 782.8,650.4 784.1,657.4 785.5,663.4 786.8,667.6 788.2,671.9 789.6,673.6 790.9,674.7 792.3,674.0 793.6,670.8 795.0,666.2 796.4,660.3 797.7,652.1 799.1,642.9 800.5,631.3 801.8,620.7 803.2,607.8 804.5,595.5 805.9,583.3 807.3,571.2 808.6,559.3 810.0,548.2 811.4,538.5 812.7,530.1 814.1,522.7 815.5,517.7 816.8,514.4 818.2,512.6 819.5,513.5 820.9,516.5 822.3,520.4 823.6,527.5 825.0,536.7 826.4,546.9 827.7,557.7 829.1,571.7 830.4,585.7 831.8,600.2 833.2,615.1 834.5,631.0 835.9,646.2 837.2,661.9 838.6,676.0 840.0,690.1 841.3,702.4 842.7,714.3 844.1,723.6 845.4,732.2 846.8,738.2 848.1,741.4 849.5,744.1 850.9,743.8 852.2,739.7 853.6,733.7 855.0,723.1 856.3,710.9 857.7,696.2 859.0,679.1 860.4,660.2 861.8,639.3 863.1,618.2 864.5,596.6 865.9,574.9 867.2,552.9 868.6,532.9 870.0,514.6 871.3,497.5 872.7,482.4 874.0,471.5 875.4,461.8 876.8,455.6 878.1,453.0 879.5,453.0 880.9,457.1 882.2,461.9 883.6,469.9 884.9,481.6 886.3,493.5 887.7,508.4 889.0,524.2 890.4,541.6 891.8,560.7 893.1,579.4 894.5,598.2 895.8,617.8 897.2,636.2 898.6,653.9 899.9,669.7 901.3,684.6 902.6,698.1 904.0,708.4 905.4,716.9 906.7,723.3 908.1,726.9 909.5,727.5 910.8,724.8 912.2,720.8 913.5,711.8 914.9,701.5 916.3,688.1 917.6,672.7 919.0,656.1 920.4,638.3 921.7,619.1 923.1,600.2 924.5,581.9 925.8,563.8 927.2,546.6 928.5,531.8 929.9,518.6 931.3,508.7 932.6,500.8 934.0,495.6 935.4,493.5 936.7,493.9 938.1,497.1 939.4,503.7 940.8,511.7 942.2,523.2 943.5,534.8 944.9,549.3 946.2,564.4 947.6,579.5 949.0,596.3 950.3,611.7 951.7,627.0 953.1,640.7 954.4,653.4 955.8,663.1 957.1,671.6 958.5,678.1 959.9,680.7 961.2,681.8 962.6,680.6 964.0,676.4 965.3,671.2 966.7,664.1 968.0,654.5 969.4,644.2 970.8,632.7 972.1,620.4 973.5,606.7 974.9,593.3 976.2,579.1 977.6,565.1 979.0,553.1 980.3,540.4 981.7,528.9 983.0,519.8 984.4,511.5 985.8,504.7 987.1,500.6 988.5,498.0 989.9,498.0 991.2,500.5 992.6,506.8 993.9,514.2 995.3,525.6 996.7,538.7 998.0,554.7 999.4,572.0 1000.8,590.6 1002.1,609.8 1003.5,629.8 1004.8,650.1 1006.2,669.3 1007.6,687.0 1008.9,703.7 1010.3,718.1 1011.6,731.5 1013.0,740.5 1014.4,748.3 1015.7,752.7 1017.1,754.0 1018.5,752.6 1019.8,746.9 1021.2,737.9 1022.5,726.4 1023.9,712.8 1025.3,695.4 1026.6,677.1 1028.0,657.3 1029.4,635.3 1030.7,613.7 1032.1,590.7 1033.5,568.4 1034.8,546.8 1036.2,527.2 1037.5,508.9 1038.9,493.1 1040.3,479.3 1041.6,468.9 1043.0,460.7 1044.3,456.1 1045.7,454.6 1047.1,457.4 1048.4,462.2 1049.8,470.7 1051.2,482.0 1052.5,495.6 1053.9,511.1 1055.2,529.4 1056.6,548.0 1058.0,569.0 1059.3,589.7 1060.7,610.2 1062.1,629.5 1063.4,648.3 1064.8,666.0 1066.2,681.7 1067.5,694.3 1068.9,705.4 1070.2,712.7 1071.6,717.4 1073.0,718.5 1074.3,717.8 1075.7,713.1 1077.0,706.5 1078.4,697.1 1079.8,685.9 1081.1,672.2 1082.5,656.9 1083.9,640.4 1085.2,622.7 1086.6,603.7 1088.0,586.2 1089.3,568.0 1090.7,549.7 1092.0,533.4 1093.4,518.9 1094.8,505.8 1096.1,493.6 1097.5,485.5 1098.8,479.3 1100.2,475.0 1101.6,473.7 1102.9,475.6 1104.3,480.3 1105.7,488.6 1107.0,498.7 1108.4,510.7 1109.8,525.9 1111.1,542.2 1112.5,559.2 1113.8,578.5 1115.2,597.0 1116.6,615.3 1117.9,634.0 1119.3,651.4 1120.7,667.3 1122.0,682.2 1123.4,694.2 1124.7,704.6 1126.1,711.2 1127.5,715.7 1128.8,717.5 1130.2,715.0 1131.5,711.5 1132.9,705.7 1134.3,696.6 1135.6,685.9 1137.0,672.0 1138.4,658.4 1139.7,642.0 1141.1,625.3 1142.5,608.0 1143.8,590.8 1145.2,573.9 1146.5,557.0 1147.9,541.4 1149.3,526.5 1150.6,514.4 1152.0,503.3 1153.3,495.3 1154.7,488.8 1156.1,484.7 1157.4,483.9 1158.8,486.1 1160.2,491.1 1161.5,498.6 1162.9,509.4 1164.2,523.5 1165.6,538.4 1167.0,556.5 1168.3,575.9 1169.7,595.5 1171.1,616.1 1172.4,638.3 1173.8,658.8 1175.2,678.6 1176.5,697.4 1177.9,714.6 1179.2,729.3 1180.6,742.5 1182.0,752.6 1183.3,759.5 1184.7,763.6 1186.0,763.8 1187.4,761.8 1188.8,756.9 1190.1,748.8 1191.5,736.7 1192.9,724.0 1194.2,708.0 1195.6,689.0 1197.0,670.3 1198.3,649.8 1199.7,628.1 1201.0,607.2 1202.4,585.8 1203.8,565.9 1205.1,547.7 1206.5,529.9 1207.8,515.0 1209.2,502.1 1210.6,492.6 1211.9,485.4 1213.3,481.3 1214.7,480.7 1216.0,483.1 1217.4,488.6 1218.8,495.7 1220.1,506.1 1221.5,519.0 1222.8,534.0 1224.2,551.1 1225.6,568.8 1226.9,588.2 1228.3,608.5 1229.7,628.1 1231.0,648.5 1232.4,668.5 1233.7,686.2 1235.1,703.5 1236.5,718.8 1237.8,732.0 1239.2,743.1 1240.5,750.8 1241.9,755.8 1243.3,759.1 1244.6,757.9 1246.0,754.2 1247.4,746.1 1248.7,735.4 1250.1,721.4 1251.5,704.9 1252.8,685.9 1254.2,663.6 1255.5,641.8 1256.9,617.3 1258.3,592.9 1259.6,568.5 1261.0,545.2 1262.3,522.5 1263.7,502.2 1265.1,484.0 1266.4,467.7 1267.8,454.2 1269.2,445.1 1270.5,438.6 1271.9,435.3 1273.2,435.4 1274.6,439.0 1276.0,444.8 1277.3,454.6 1278.7,465.8 1280.1,479.6 1281.4,495.2 1282.8,512.4 1284.2,531.2 1285.5,550.8 1286.9,571.1 1288.2,591.4 1289.6,612.4 1291.0,632.2 1292.3,651.5 1293.7,668.4 1295.0,684.9 1296.4,697.6 1297.8,709.7 1299.1,718.7 1300.5,725.3 1301.9,729.2 1303.2,729.6 1304.6,727.7 1306.0,723.1 1307.3,715.9 1308.7,705.0 1310.0,693.8 1311.4,679.2 1312.8,663.9 1314.1,647.0 1315.5,628.3 1316.8,609.8 1318.2,592.4 1319.6,573.8 1320.9,556.7 1322.3,539.6 1323.7,525.2 1325.0,512.3 1326.4,500.9 1327.8,493.0 1329.1,486.6 1330.5,483.8 1331.8,482.7 1333.2,485.4 1334.6,489.7 1335.9,496.6 1337.3,505.4 1338.7,516.5 1340.0,528.3 1341.4,542.5 1342.7,558.3 1344.1,574.5 1345.5,591.4 1346.8,608.5 1348.2,625.0 1349.5,641.2 1350.9,656.6 1352.3,670.8 1353.6,683.7 1355.0,695.2 1356.4,703.2 1357.7,710.7 1359.1,715.1 1360.5,716.8 1361.8,716.9 1363.2,715.8 1364.5,713.9 1365.9,709.9 1367.3,706.6 1368.6,701.7 1370.0,695.9 1371.3,690.4 1372.7,682.9 1374.1,676.1 1375.4,668.5 1376.8,660.7 1378.2,651.8 1379.5,644.2 1380.9,635.8 1382.2,628.7 1383.6,620.3 1385.0,613.7 1386.3,607.8 1387.7,601.0 1389.1,596.1 1390.4,592.3 1391.8,588.3 1393.2,586.7 1394.5,584.3 1395.9,584.0 1397.2,584.0 1398.6,584.5 1400.0,584.4 1401.3,585.6 1402.7,586.3 1404.0,586.6 1405.4,587.5 1406.8,588.0 1408.1,589.2 1409.5,589.3 1410.9,589.9 1412.2,590.1 1413.6,589.9 1415.0,588.9 1416.3,588.5 1417.7,587.5 1419.0,586.1 1420.4,584.1 1421.8,582.6 1423.1,581.5 1424.5,580.5 1425.8,578.9 1427.2,578.5 1428.6,578.0 1429.9,577.4 1431.3,576.5 1432.7,578.1 1434.0,580.5 1435.4,584.0 1436.8,587.4 1438.1,593.5 1439.5,599.5 1440.8,607.0 1442.2,614.5 1443.6,623.2 1444.9,630.6 1446.3,639.0 1447.7,647.7 1449.0,655.6 1450.4,662.2 1451.7,669.5 1453.1,674.7 1454.5,679.4 1455.8,682.0 1457.2,685.1 1458.5,686.0 1459.9,685.0 1461.3,682.7 1462.6,678.3 1464.0,672.8 1465.4,663.7 1466.7,654.2 1468.1,642.6 1469.5,630.4 1470.8,617.2 1472.2,602.7 1473.5,588.6 1474.9,575.0 1476.3,560.7 1477.6,547.7 1479.0,534.9 1480.3,524.3 1481.7,514.2 1483.1,506.6 1484.4,500.4 1485.8,496.3 1487.2,493.9 1488.5,493.3 1489.9,495.8 1491.2,501.3 1492.6,508.4 1494.0,518.5 1495.3,530.7 1496.7,544.9 1498.1,560.7 1499.4,578.9 1500.8,597.1 1502.2,616.6 1503.5,635.1 1504.9,654.4 1506.2,673.2 1507.6,691.1 1509.0,707.6 1510.3,723.4 1511.7,736.3 1513.0,747.1 1514.4,756.3 1515.8,762.9 1517.1,766.0 1518.5,767.6 1519.9,766.1 1521.2,761.2 1522.6,754.1 1524.0,743.5 1525.3,731.4 1526.7,718.0 1528.0,701.9 1529.4,683.6 1530.8,664.9 1532.1,645.4 1533.5,625.9 1534.8,605.4 1536.2,586.5 1537.6,567.4 1538.9,549.1 1540.3,533.0 1541.7,518.8 1543.0,505.6 1544.4,495.4 1545.8,488.2 1547.1,483.6 1548.5,480.3 1549.8,481.2 1551.2,483.9 1552.6,489.9 1553.9,499.0 1555.3,509.9 1556.7,522.0 1558.0,536.7 1559.4,552.9 1560.7,571.2 1562.1,589.5 1563.5,609.2 1564.8,628.0 1566.2,647.4 1567.5,666.4 1568.9,683.3 1570.3,700.0 1571.6,715.6 1573.0,728.7 1574.4,739.7 1575.7,748.2 1577.1,753.4 1578.5,756.9 1579.8,757.7 1581.2,755.4 1582.5,751.0 1583.9,743.2 1585.3,732.7 1586.6,720.9 1588.0,705.7 1589.3,689.3 1590.7,671.4 1592.1,652.4 1593.4,632.7 1594.8,612.4 1596.2,591.4 1597.5,572.0 1598.9,552.7 1600.2,534.5 1601.6,517.7 1603.0,502.6 1604.3,490.5 1605.7,481.0 1607.1,472.6 1608.4,468.5 1609.8,466.3 1611.2,466.7 1612.5,469.4 1613.9,473.4 1615.2,480.1 1616.6,487.8 1618.0,497.7 1619.3,508.0 1620.7,520.3 1622.0,534.6 1623.4,548.0 1624.8,563.1 1626.1,577.9 1627.5,594.1 1628.9,609.0 1630.2,623.6 1631.6,637.4 1633.0,649.8 1634.3,661.3 1635.7,671.6 1637.0,680.6 1638.4,687.6 1639.8,693.4 1641.1,696.2 1642.5,698.5 1643.8,697.5 1645.2,694.7 1646.6,690.9 1647.9,685.0 1649.3,678.3 1650.7,669.7 1652.0,659.3 1653.4,648.9 1654.8,636.3 1656.1,624.4 1657.5,610.9 1658.8,598.3 1660.2,585.9 1661.6,573.5 1662.9,561.5 1664.3,550.9 1665.7,540.7 1667.0,532.3 1668.4,524.6 1669.7,519.7 1671.1,515.4 1672.5,513.5 1673.8,513.1 1675.2,513.9 1676.5,517.3 1677.9,521.0 1679.3,526.2 1680.6,532.2 1682.0,539.9 1683.4,549.4 1684.7,558.4 1686.1,568.2 1687.5,579.4 1688.8,589.2 1690.2,600.4 1691.5,610.8 1692.9,622.0 1694.3,631.2 1695.6,640.6 1697.0,648.1 1698.3,655.7 1699.7,661.3 1701.1,666.7 1702.4,670.4 1703.8,672.2 1705.2,672.6 1706.5,672.2 1707.9,670.1 1709.2,666.6 1710.6,663.3 1712.0,658.5 1713.3,652.6 1714.7,645.9 1716.1,639.3 1717.4,630.9 1718.8,623.5 1720.2,615.0 1721.5,606.7 1722.9,598.6 1724.2,590.5 1725.6,584.0 1727.0,577.1 1728.3,571.4 1729.7,566.5 1731.0,562.4 1732.4,558.5 1733.8,556.3 1735.1,555.1 1736.5,556.0 1737.9,556.9 1739.2,559.1 1740.6,562.2 1742.0,565.1 1743.3,569.5 1744.7,574.7 1746.0,580.5 1747.4,587.8 1748.8,593.7 1750.1,600.9 1751.5,608.4 1752.8,615.1 1754.2,623.2 1755.6,630.3 1756.9,636.3 1758.3,642.9 1759.7,649.3 1761.0,655.1 1762.4,659.2 1763.8,662.8 1765.1,665.8 1766.5,668.0 1767.8,669.3 1769.2,669.4 1770.6,669.6 1771.9,667.9 1773.3,665.1 1774.7,661.0 1776.0,657.2 1777.4,651.7 1778.7,645.8 1780.1,639.8 1781.5,632.7 1782.8,625.2 1784.2,618.0 1785.5,611.9 1786.9,604.8 1788.3,597.8 1789.6,591.6 1791.0,585.6 1792.4,580.2 1793.7,576.1 1795.1,572.5 1796.5,569.6 1797.8,568.1 1799.2,568.5 1800.5,568.4 1801.9,569.6 1803.3,570.9 1804.6,573.4 1806.0,576.2 1807.3,580.3 1808.7,585.0 1810.1,589.6 1811.4,594.1 1812.8,599.5 1814.2,604.3 1815.5,609.8 1816.9,614.9 1818.2,619.8 1819.6,624.2 1821.0,629.1 1822.3,632.7 1823.7,636.8 1825.1,639.6 1826.4,641.8 1827.8,642.9 1829.2,643.5 1830.5,643.4 1831.9,642.9 1833.2,641.7 1834.6,640.0 1836.0,637.0 1837.3,634.0 1838.7,630.3 1840.0,626.8 1841.4,622.7 1842.8,618.2 1844.1,613.5 1845.5,607.7"/>
<polyline stroke="#ff00ff" stroke-width="6" marker-start="url(#mc)" marker-mid="url(#mc)" marker-end="url(#mc)" points="210.5,612.3 211.9,608.5 213.2,612.7 214.6,616.4 215.9,616.3 217.3,612.2 218.7,616.5 220.0,616.5 221.4,612.4 222.8,616.4 224.1,616.7 225.5,612.6 226.8,612.4 228.2,616.3 229.6,612.2 230.9,616.3 232.3,616.5 233.7,616.5 235.0,616.2 236.4,616.7 237.8,616.7 239.1,616.6 240.5,616.6 241.8,612.7 243.2,608.1 244.6,612.4 245.9,612.4 247.3,612.3 248.7,612.5 250.0,612.6 251.4,612.3 252.7,608.5 254.1,616.3 255.5,612.5 256.8,612.2 258.2,616.7 259.6,616.7 260.9,616.7 262.3,616.8 263.6,616.4 265.0,616.6 266.4,616.6 267.7,612.3 269.1,612.4 270.4,616.7 271.8,612.5 273.2,616.4 274.5,612.6 275.9,612.3 277.3,612.2 278.6,612.5 280.0,612.2 281.4,616.8 282.7,616.4 284.1,608.0 285.4,612.2 286.8,612.6 288.2,616.5 289.5,616.5 290.9,608.4 292.2,616.3 293.6,612.5 295.0,616.3 296.3,612.7 297.7,612.5 299.1,612.6 300.4,616.3 301.8,616.4 303.1,612.7 304.5,616.4 305.9,616.3 307.2,616.2 308.6,616.7 310.0,616.2 311.3,616.5 312.7,612.3 314.1,612.5 315.4,612.6 316.8,612.4 318.1,612.4 319.5,608.2 320.9,612.4 322.2,608.1 323.6,612.3 324.9,616.5 326.3,612.7 327.7,612.6 329.0,616.7 330.4,612.3 331.8,612.4 333.1,616.5 334.5,612.5 335.9,616.5 337.2,616.6 338.6,616.4 339.9,612.3 341.3,612.7 342.7,612.4 344.0,616.6 345.4,612.5 346.8,616.2 348.1,612.7 349.5,608.0 350.8,612.6 352.2,612.6 353.6,612.5 354.9,612.4 356.3,616.5 357.6,616.7 359.0,616.7 360.4,612.5 361.7,612.6 363.1,612.7 364.5,612.7 365.8,608.6 367.2,612.7 368.6,608.1 369.9,616.6 371.3,616.4 372.6,612.4 374.0,608.2 375.4,612.6 376.7,612.6 378.1,616.4 379.4,612.7 380.8,616.3 382.2,616.5 383.5,616.7 384.9,616.4 386.3,612.6 387.6,612.8 389.0,612.5 390.4,612.5 391.7,612.3 393.1,604.6 394.4,612.9 395.8,613.3 397.2,613.3 398.5,606.7 399.9,606.5 401.2,606.5 402.6,609.6 404.0,603.9 405.3,609.2 406.7,588.9 408.1,608.0 409.4,611.1 410.8,604.3 412.1,607.3 413.5,596.2 414.9,592.8 416.2,610.6 417.6,575.0 419.0,621.7 420.3,609.3 421.7,604.4 423.1,618.6 424.4,606.9 425.8,596.4 427.1,614.4 428.5,616.6 429.9,602.4 431.2,622.6 432.6,601.2 433.9,596.2 435.3,608.2 436.7,599.7 438.0,602.1 439.4,602.6 440.8,611.2 442.1,610.3 443.5,598.7 444.9,596.8 446.2,609.5 447.6,625.7 448.9,596.8 450.3,620.4 451.7,599.4 453.0,605.7 454.4,594.3 455.8,595.2 457.1,620.3 458.5,634.0 459.8,603.2 461.2,613.7 462.6,595.2 463.9,604.9 465.3,567.5 466.6,618.6 468.0,613.2 469.4,615.4 470.7,598.1 472.1,595.2 473.5,583.8 474.8,616.1 476.2,593.6 477.6,589.1 478.9,622.8 480.3,607.9 481.6,611.2 483.0,602.3 484.4,595.5 485.7,604.0 487.1,613.4 488.4,605.6 489.8,606.0 491.2,614.9 492.5,604.4 493.9,606.5 495.3,610.7 496.6,600.0 498.0,613.8 499.4,599.0 500.7,601.4 502.1,587.9 503.4,611.3 504.8,596.7 506.2,600.4 507.5,580.0 508.9,601.6 510.2,626.1 511.6,627.3 513.0,619.8 514.3,617.7 515.7,618.4 517.1,608.3 518.4,601.7 519.8,619.6 521.1,597.9 522.5,608.6 523.9,613.7 525.2,606.7 526.6,615.2 528.0,612.3 529.3,612.5 530.7,616.7 532.0,616.7 533.4,612.8 534.8,616.5 536.1,616.4 537.5,608.2 538.9,608.5 540.2,608.4 541.6,612.4 543.0,616.7 544.3,616.2 545.7,612.4 547.0,612.3 548.4,616.4 549.8,612.4 551.1,608.4 552.5,616.8 553.9,612.7 555.2,612.3 556.6,616.7 557.9,616.5 559.3,616.5 560.7,612.3 562.0,612.2 563.4,608.6 564.8,612.4 566.1,612.7 567.5,616.3 568.8,616.8 570.2,612.5 571.6,612.6 572.9,612.4 574.3,612.6 575.6,616.5 577.0,616.5 578.4,608.3 579.7,616.8 581.1,616.6 582.5,616.6 583.8,612.5 585.2,612.2 586.5,616.4 587.9,612.2 589.3,612.6 590.6,612.5 592.0,616.7 593.4,616.3 594.7,608.1 596.1,616.6 597.5,612.7 598.8,616.6 600.2,612.7 601.5,612.6 602.9,616.4 604.3,612.4 605.6,608.4 607.0,616.5 608.4,616.4 609.7,612.3 611.1,616.6 612.4,608.4 613.8,616.8 615.2,616.5 616.5,616.4 617.9,616.5 619.2,612.8 620.6,616.6 622.0,616.6 623.3,616.3 624.7,612.6 626.1,612.3 627.4,616.6 628.8,616.4 630.1,612.7 631.5,612.6 632.9,616.4 634.2,612.6 635.6,616.6 637.0,608.1 638.3,614.8 639.7,614.6 641.0,615.1 642.4,615.3 643.8,615.9 645.1,617.1 646.5,618.1 647.9,619.5 649.2,620.2 650.6,621.2 652.0,622.5 653.3,623.5 654.7,624.2 656.0,624.9 657.4,626.1 658.8,626.3 660.1,626.3 661.5,626.6 662.9,626.7 664.2,626.6 665.6,625.7 666.9,624.1 668.3,622.8 669.7,620.0 671.0,617.6 672.4,615.4 673.8,612.3 675.1,608.8 676.5,606.0 677.8,601.6 679.2,598.8 680.6,595.8 681.9,592.5 683.3,588.5 684.6,586.2 686.0,583.2 687.4,581.2 688.7,578.4 690.1,577.0 691.5,575.7 692.8,575.2 694.2,573.9 695.5,573.9 696.9,574.3 698.3,576.3 699.6,577.6 701.0,581.3 702.4,583.8 703.7,587.8 705.1,593.2 706.5,597.6 707.8,603.2 709.2,608.3 710.5,614.1 711.9,620.2 713.3,627.0 714.6,632.1 716.0,638.9 717.4,644.7 718.7,649.9 720.1,654.5 721.4,659.8 722.8,664.2 724.2,667.4 725.5,670.0 726.9,672.9 728.2,675.0 729.6,675.5 731.0,675.3 732.3,674.7 733.7,673.6 735.1,670.3 736.4,666.7 737.8,662.8 739.1,657.4 740.5,651.8 741.9,644.7 743.2,638.2 744.6,630.9 746.0,622.7 747.3,615.1 748.7,607.1 750.0,599.6 751.4,591.7 752.8,584.5 754.1,577.5 755.5,571.6 756.9,565.1 758.2,560.3 759.6,557.1 761.0,554.0 762.3,550.8 763.7,550.7 765.0,550.2 766.4,551.7 767.8,554.1 769.1,557.6 770.5,562.5 771.9,569.6 773.2,576.9 774.6,584.8 775.9,593.3 777.3,602.7 778.7,612.9 780.0,621.9 781.4,630.9 782.8,640.7 784.1,649.0 785.5,655.6 786.8,662.2 788.2,668.3 789.6,672.0 790.9,675.0 792.3,676.7 793.6,676.2 795.0,674.7 796.4,670.4 797.7,664.8 799.1,657.9 800.5,649.0 801.8,639.4 803.2,627.4 804.5,616.5 805.9,603.3 807.3,590.8 808.6,578.1 810.0,566.3 811.4,555.8 812.7,544.7 814.1,536.1 815.5,528.7 816.8,522.3 818.2,517.5 819.5,515.4 820.9,514.7 822.3,516.5 823.6,520.3 825.0,525.9 826.4,534.2 827.7,543.5 829.1,554.2 830.4,566.6 831.8,580.1 833.2,594.6 834.5,610.2 835.9,625.3 837.2,641.4 838.6,656.5 840.0,672.1 841.3,685.7 842.7,699.6 844.1,711.6 845.4,722.0 846.8,729.9 848.1,737.7 849.5,742.2 850.9,745.6 852.2,745.9 853.6,744.1 855.0,738.5 856.3,730.8 857.7,719.1 859.0,705.8 860.4,689.3 861.8,670.7 863.1,650.4 864.5,629.7 865.9,608.2 867.2,586.3 868.6,565.1 870.0,543.7 871.3,524.8 872.7,507.5 874.0,492.0 875.4,478.5 876.8,468.0 878.1,460.5 879.5,456.7 880.9,455.4 882.2,456.8 883.6,461.3 884.9,468.9 886.3,477.9 887.7,489.6 889.0,503.0 890.4,518.9 891.8,535.5 893.1,554.0 894.5,572.8 895.8,592.0 897.2,611.1 898.6,628.8 899.9,646.9 901.3,664.2 902.6,680.3 904.0,693.9 905.4,705.4 906.7,714.9 908.1,722.3 909.5,726.9 910.8,729.0 912.2,729.0 913.5,724.7 914.9,718.2 916.3,709.5 917.6,697.2 919.0,684.2 920.4,668.4 921.7,651.7 923.1,633.5 924.5,615.1 925.8,596.2 927.2,578.5 928.5,561.5 929.9,546.1 931.3,533.0 932.6,520.9 934.0,512.3 935.4,505.8 936.7,501.7 938.1,501.4 939.4,504.1 940.8,509.1 942.2,515.5 943.5,524.9 944.9,536.3 946.2,549.3 947.6,563.4 949.0,578.9 950.3,593.9 951.7,608.9 953.1,623.8 954.4,638.0 955.8,650.3 957.1,661.6 958.5,670.3 959.9,677.8 961.2,682.5 962.6,684.4 964.0,683.5 965.3,680.7 966.7,676.4 968.0,670.1 969.4,661.6 970.8,652.6 972.1,641.7 973.5,629.5 974.9,617.1 976.2,604.5 977.6,590.9 979.0,577.3 980.3,564.3 981.7,552.6 983.0,541.3 984.4,531.0 985.8,522.6 987.1,515.6 988.5,510.7 989.9,507.7 991.2,505.9 992.6,507.2 993.9,511.3 995.3,518.3 996.7,527.5 998.0,539.6 999.4,554.7 1000.8,569.9 1002.1,588.2 1003.5,606.3 1004.8,625.8 1006.2,645.1 1007.6,663.9 1008.9,682.0 1010.3,700.0 1011.6,714.2 1013.0,727.6 1014.4,739.4 1015.7,747.3 1017.1,752.7 1018.5,756.1 1019.8,756.0 1021.2,751.6 1022.5,745.7 1023.9,735.9 1025.3,724.5 1026.6,709.5 1028.0,693.3 1029.4,674.7 1030.7,654.4 1032.1,634.3 1033.5,613.7 1034.8,592.2 1036.2,571.8 1037.5,553.6 1038.9,535.6 1040.3,519.3 1041.6,504.7 1043.0,494.1 1044.3,485.9 1045.7,480.0 1047.1,477.4 1048.4,477.6 1049.8,481.4 1051.2,488.1 1052.5,496.7 1053.9,507.8 1055.2,521.7 1056.6,538.3 1058.0,555.2 1059.3,573.7 1060.7,591.6 1062.1,610.6 1063.4,630.0 1064.8,647.7 1066.2,664.5 1067.5,679.5 1068.9,693.3 1070.2,704.3 1071.6,712.6 1073.0,717.9 1074.3,720.7 1075.7,720.4 1077.0,717.7 1078.4,712.2 1079.8,704.5 1081.1,695.1 1082.5,682.8 1083.9,668.2 1085.2,653.6 1086.6,637.4 1088.0,619.7 1089.3,602.9 1090.7,585.5 1092.0,567.5 1093.4,552.0 1094.8,536.8 1096.1,523.5 1097.5,511.9 1098.8,502.8 1100.2,495.3 1101.6,490.8 1102.9,487.8 1104.3,489.0 1105.7,491.7 1107.0,497.5 1108.4,506.7 1109.8,517.4 1111.1,530.0 1112.5,545.6 1113.8,561.3 1115.2,578.7 1116.6,597.0 1117.9,614.2 1119.3,632.2 1120.7,649.3 1122.0,664.9 1123.4,679.7 1124.7,692.8 1126.1,702.9 1127.5,710.4 1128.8,716.3 1130.2,718.9 1131.5,718.4 1132.9,716.1 1134.3,710.4 1135.6,703.2 1137.0,692.7 1138.4,681.2 1139.7,666.8 1141.1,651.4 1142.5,635.2 1143.8,617.9 1145.2,601.3 1146.5,584.1 1147.9,566.4 1149.3,550.0 1150.6,535.8 1152.0,522.3 1153.3,509.9 1154.7,500.3 1156.1,493.3 1157.4,488.0 1158.8,485.8 1160.2,486.5 1161.5,489.7 1162.9,496.4 1164.2,506.5 1165.6,518.4 1167.0,533.8 1168.3,550.6 1169.7,568.7 1171.1,588.0 1172.4,609.2 1173.8,629.7 1175.2,651.2 1176.5,671.1 1177.9,690.8 1179.2,708.8 1180.6,724.8 1182.0,738.7 1183.3,749.5 1184.7,757.8 1186.0,763.6 1187.4,766.8 1188.8,765.0 1190.1,761.5 1191.5,754.5 1192.9,744.8 1194.2,732.7 1195.6,716.9 1197.0,699.7 1198.3,680.7 1199.7,661.0 1201.0,640.6 1202.4,619.0 1203.8,598.0 1205.1,577.3 1206.5,557.7 1207.8,539.7 1209.2,523.2 1210.6,510.5 1211.9,499.0 1213.3,489.8 1214.7,484.5 1216.0,483.0 1217.4,483.5 1218.8,487.6 1220.1,494.2 1221.5,502.8 1222.8,515.4 1224.2,528.7 1225.6,544.6 1226.9,562.9 1228.3,581.8 1229.7,600.9 1231.0,621.1 1232.4,641.7 1233.7,660.9 1235.1,679.9 1236.5,698.3 1237.8,713.3 1239.2,728.4 1240.5,740.3 1241.9,749.8 1243.3,755.7 1244.6,759.6 1246.0,760.9 1247.4,758.2 1248.7,753.2 1250.1,743.3 1251.5,731.0 1252.8,715.0 1254.2,696.7 1255.5,676.8 1256.9,653.7 1258.3,630.4 1259.6,607.0 1261.0,582.4 1262.3,558.7 1263.7,536.0 1265.1,514.1 1266.4,494.3 1267.8,477.1 1269.2,462.3 1270.5,450.5 1271.9,442.5 1273.2,438.6 1274.6,437.1 1276.0,438.6 1277.3,444.3 1278.7,452.4 1280.1,462.2 1281.4,474.7 1282.8,489.4 1284.2,506.3 1285.5,524.4 1286.9,543.6 1288.2,564.2 1289.6,584.8 1291.0,605.2 1292.3,625.2 1293.7,644.6 1295.0,662.1 1296.4,679.1 1297.8,693.6 1299.1,706.2 1300.5,717.4 1301.9,724.2 1303.2,729.8 1304.6,731.9 1306.0,730.7 1307.3,726.7 1308.7,720.7 1310.0,712.5 1311.4,701.5 1312.8,687.9 1314.1,673.3 1315.5,656.3 1316.8,639.4 1318.2,621.4 1319.6,602.9 1320.9,584.2 1322.3,566.4 1323.7,548.9 1325.0,533.6 1326.4,519.9 1327.8,507.6 1329.1,498.0 1330.5,491.9 1331.8,487.0 1333.2,485.1 1334.6,486.1 1335.9,489.6 1337.3,495.0 1338.7,502.7 1340.0,512.7 1341.4,525.3 1342.7,538.8 1344.1,552.7 1345.5,569.4 1346.8,585.7 1348.2,602.3 1349.5,619.6 1350.9,635.7 1352.3,652.1 1353.6,666.6 1355.0,680.1 1356.4,691.2 1357.7,702.2 1359.1,710.0 1360.5,715.4 1361.8,718.0 1363.2,719.2 1364.5,717.6 1365.9,715.9 1367.3,712.1 1368.6,707.6 1370.0,701.7 1371.3,694.8 1372.7,687.7 1374.1,679.4 1375.4,670.7 1376.8,662.1 1378.2,652.9 1379.5,644.0 1380.9,636.7 1382.2,627.6 1383.6,621.3 1385.0,614.3 1386.3,608.5 1387.7,604.5 1389.1,601.5 1390.4,599.0 1391.8,599.1 1393.2,598.7 1394.5,599.8 1395.9,601.6 1397.2,603.3 1398.6,604.3 1400.0,606.5 1401.3,609.0 1402.7,609.9 1404.0,611.0 1405.4,612.1 1406.8,613.4 1408.1,612.7 1409.5,612.6 1410.9,611.8 1412.2,609.9 1413.6,607.4 1415.0,605.4 1416.3,602.6 1417.7,599.9 1419.0,597.1 1420.4,594.5 1421.8,591.2 1423.1,588.1 1424.5,585.9 1425.8,583.3 1427.2,581.0 1428.6,580.2 1429.9,578.8 1431.3,578.3 1432.7,578.7 1434.0,580.2 1435.4,582.1 1436.8,585.9 1438.1,591.0 1439.5,595.7 1440.8,601.5 1442.2,608.2 1443.6,615.6 1444.9,622.8 1446.3,630.3 1447.7,638.1 1449.0,645.2 1450.4,652.9 1451.7,659.3 1453.1,665.8 1454.5,670.8 1455.8,675.8 1457.2,678.9 1458.5,681.9 1459.9,683.5 1461.3,683.4 1462.6,682.4 1464.0,679.5 1465.4,674.6 1466.7,667.5 1468.1,658.6 1469.5,648.1 1470.8,636.6 1472.2,622.9 1473.5,609.3 1474.9,595.3 1476.3,581.9 1477.6,567.3 1479.0,554.0 1480.3,541.1 1481.7,530.4 1483.1,519.3 1484.4,510.6 1485.8,504.1 1487.2,499.2 1488.5,495.4 1489.9,495.1 1491.2,496.6 1492.6,500.8 1494.0,507.5 1495.3,517.1 1496.7,528.6 1498.1,542.2 1499.4,556.9 1500.8,573.4 1502.2,591.8 1503.5,610.0 1504.9,629.9 1506.2,649.0 1507.6,668.2 1509.0,686.5 1510.3,703.5 1511.7,719.2 1513.0,732.8 1514.4,745.3 1515.8,755.0 1517.1,761.9 1518.5,767.6 1519.9,769.3 1521.2,768.9 1522.6,765.2 1524.0,759.9 1525.3,750.9 1526.7,740.1 1528.0,727.0 1529.4,711.3 1530.8,694.5 1532.1,676.1 1533.5,656.6 1534.8,637.4 1536.2,617.5 1537.6,596.6 1538.9,577.3 1540.3,559.4 1541.7,541.9 1543.0,526.9 1544.4,513.3 1545.8,501.9 1547.1,493.6 1548.5,487.1 1549.8,484.0 1551.2,482.3 1552.6,484.5 1553.9,489.4 1555.3,496.8 1556.7,506.0 1558.0,517.6 1559.4,531.7 1560.7,547.6 1562.1,565.2 1563.5,583.0 1564.8,602.2 1566.2,621.5 1567.5,640.4 1568.9,659.4 1570.3,678.0 1571.6,695.0 1573.0,710.3 1574.4,724.0 1575.7,736.6 1577.1,745.8 1578.5,753.0 1579.8,757.6 1581.2,760.1 1582.5,759.3 1583.9,756.1 1585.3,749.3 1586.6,740.2 1588.0,729.2 1589.3,714.6 1590.7,699.5 1592.1,682.6 1593.4,663.1 1594.8,643.3 1596.2,623.0 1597.5,602.5 1598.9,583.1 1600.2,563.1 1601.6,545.0 1603.0,527.8 1604.3,511.2 1605.7,498.0 1607.1,486.6 1608.4,477.8 1609.8,471.3 1611.2,468.2 1612.5,467.7 1613.9,469.4 1615.2,473.1 1616.6,479.1 1618.0,485.3 1619.3,494.2 1620.7,505.6 1622.0,516.7 1623.4,529.9 1624.8,543.5 1626.1,558.8 1627.5,573.8 1628.9,588.6 1630.2,603.1 1631.6,618.2 1633.0,632.8 1634.3,646.0 1635.7,657.9 1637.0,669.1 1638.4,678.2 1639.8,686.6 1641.1,693.2 1642.5,697.0 1643.8,699.5 1645.2,699.5 1646.6,698.7 1647.9,695.1 1649.3,690.2 1650.7,684.1 1652.0,675.5 1653.4,665.8 1654.8,656.0 1656.1,644.6 1657.5,631.6 1658.8,619.3 1660.2,607.0 1661.6,593.7 1662.9,580.9 1664.3,568.5 1665.7,557.3 1667.0,547.3 1668.4,538.5 1669.7,530.4 1671.1,524.4 1672.5,519.1 1673.8,515.7 1675.2,514.8 1676.5,515.4 1677.9,516.9 1679.3,520.3 1680.6,526.1 1682.0,532.0 1683.4,538.3 1684.7,546.4 1686.1,556.5 1687.5,565.3 1688.8,575.8 1690.2,586.4 1691.5,597.1 1692.9,607.7 1694.3,618.7 1695.6,629.1 1697.0,637.7 1698.3,646.9 1699.7,654.1 1701.1,661.5 1702.4,667.0 1703.8,671.0 1705.2,673.3 1706.5,674.1 1707.9,674.6 1709.2,672.5 1710.6,670.9 1712.0,666.9 1713.3,663.1 1714.7,657.0 1716.1,651.3 1717.4,644.1 1718.8,636.4 1720.2,628.9 1721.5,620.7 1722.9,612.2 1724.2,604.5 1725.6,596.6 1727.0,589.3 1728.3,581.9 1729.7,575.9 1731.0,569.9 1732.4,565.6 1733.8,561.6 1735.1,559.7 1736.5,557.5 1737.9,557.3 1739.2,557.7 1740.6,559.5 1742.0,562.3 1743.3,565.2 1744.7,569.3 1746.0,575.1 1747.4,579.9 1748.8,585.9 1750.1,592.7 1751.5,600.2 1752.8,607.3 1754.2,614.8 1755.6,621.7 1756.9,628.6 1758.3,635.8 1759.7,641.9 1761.0,648.8 1762.4,654.6 1763.8,659.7 1765.1,663.8 1766.5,667.1 1767.8,669.9 1769.2,670.9 1770.6,672.0 1771.9,671.4 1773.3,671.1 1774.7,668.4 1776.0,664.8 1777.4,661.8 1778.7,656.5 1780.1,650.5 1781.5,645.1 1782.8,638.2 1784.2,631.2 1785.5,624.4 1786.9,616.5 1788.3,609.3 1789.6,602.7 1791.0,595.8 1792.4,590.3 1793.7,584.6 1795.1,579.6 1796.5,575.6 1797.8,572.7 1799.2,571.2 1800.5,570.6 1801.9,570.5 1803.3,571.3 1804.6,572.4 1806.0,574.8 1807.3,577.0 1808.7,580.5 1810.1,585.0 1811.4,588.6 1812.8,593.8 1814.2,598.7 1815.5,603.3 1816.9,609.2 1818.2,614.7 1819.6,620.0 1821.0,624.3 1822.3,629.5 1823.7,632.6 1825.1,637.4 1826.4,640.2 1827.8,642.9 1829.2,644.3 1830.5,645.7 1831.9,646.4 1833.2,645.4 1834.6,644.4 1836.0,643.4 1837.3,641.3 1838.7,637.7 1840.0,634.7 1841.4,630.8 1842.8,626.3 1844.1,622.5 1845.5,617.1"/>
<polyline stroke="#ff0000" stroke-width="6" marker-start="url(#ms)" marker-mid="url(#ms)" marker-end="url(#ms)" points="210.5,637.5 211.9,637.5 213.2,637.6 214.6,633.2 215.9,637.5 217.3,637.7 218.7,637.8 220.0,637.6 221.4,633.1 222.8,642.5 224.1,633.3 225.5,637.6 226.8,638.1 228.2,642.4 229.6,638.0 230.9,633.2 232.3,633.4 233.7,637.9 235.0,633.4 236.4,633.0 237.8,633.0 239.1,628.3 240.5,637.8 241.8,633.4 243.2,633.0 244.6,637.8 245.9,633.1 247.3,633.4 248.7,632.9 250.0,633.3 251.4,633.5 252.7,637.8 254.1,638.1 255.5,633.1 256.8,628.5 258.2,628.8 259.6,637.9 260.9,638.0 262.3,637.6 263.6,633.0 265.0,637.6 266.4,633.1 267.7,633.4 269.1,637.5 270.4,633.3 271.8,633.5 273.2,637.5 274.5,633.5 275.9,642.2 277.3,633.3 278.6,633.0 280.0,637.9 281.4,633.2 282.7,637.7 284.1,633.4 285.4,632.9 286.8,632.9 288.2,633.1 289.5,638.0 290.9,633.0 292.2,637.8 293.6,633.0 295.0,637.9 296.3,633.0 297.7,633.1 299.1,637.9 300.4,638.0 301.8,632.9 303.1,632.9 304.5,637.7 305.9,637.7 307.2,633.3 308.6,633.4 310.0,637.7 311.3,633.3 312.7,633.1 314.1,637.9 315.4,633.4 316.8,633.0 318.1,633.4 319.5,633.3 320.9,633.1 322.2,637.6 323.6,633.2 324.9,637.5 326.3,633.1 327.7,637.5 329.0,632.9 330.4,637.9 331.8,637.9 333.1,628.5 334.5,633.3 335.9,633.0 337.2,633.3 338.6,637.6 339.9,633.5 341.3,638.1 342.7,633.3 344.0,633.1 345.4,633.0 346.8,632.9 348.1,637.6 349.5,633.0 350.8,637.7 352.2,637.9 353.6,637.8 354.9,633.4 356.3,633.4 357.6,637.6 359.0,628.7 360.4,637.7 361.7,632.9 363.1,633.1 364.5,633.4 365.8,633.5 367.2,637.6 368.6,633.5 369.9,633.2 371.3,637.7 372.6,633.2 374.0,637.8 375.4,633.0 376.7,633.0 378.1,637.8 379.4,633.2 380.8,638.0 382.2,628.6 383.5,633.1 384.9,637.7 386.3,642.5 387.6,637.9 389.0,637.7 390.4,638.0 391.7,633.2 393.1,643.9 394.4,636.0 395.8,641.8 397.2,647.1 398.5,640.1 399.9,643.3 401.2,632.0 402.6,638.2 404.0,639.1 405.3,641.9 406.7,648.3 408.1,651.9 409.4,653.9 410.8,647.1 412.1,641.2 413.5,645.5 414.9,637.0 416.2,672.0 417.6,598.0 419.0,624.5 420.3,619.8 421.7,648.2 423.1,650.7 424.4,621.6 425.8,646.8 427.1,637.3 428.5,651.0 429.9,654.1 431.2,646.9 432.6,640.1 433.9,633.7 435.3,630.9 436.7,633.3 438.0,631.7 439.4,650.6 440.8,644.7 442.1,634.7 443.5,653.0 444.9,627.2 446.2,637.1 447.6,650.2 448.9,645.6 450.3,640.3 451.7,652.9 453.0,662.8 454.4,634.3 455.8,649.5 457.1,622.8 458.5,642.9 459.8,630.5 461.2,664.4 462.6,634.9 463.9,656.9 465.3,585.0 466.6,655.7 468.0,635.7 469.4,649.0 470.7,641.6 472.1,639.1 473.5,644.8 474.8,635.4 476.2,629.4 477.6,649.6 478.9,647.1 480.3,640.9 481.6,642.0 483.0,635.6 484.4,654.7 485.7,656.4 487.1,629.0 488.4,618.7 489.8,651.2 491.2,633.3 492.5,656.6 493.9,642.3 495.3,638.0 496.6,666.2 498.0,641.2 499.4,624.8 500.7,638.8 502.1,638.4 503.4,638.3 504.8,659.8 506.2,628.6 507.5,608.0 508.9,644.0 510.2,648.1 511.6,637.2 513.0,654.1 514.3,648.8 515.7,627.9 517.1,637.4 518.4,660.0 519.8,633.6 521.1,636.9 522.5,637.8 523.9,634.2 525.2,638.1 526.6,640.3 528.0,637.6 529.3,637.9 530.7,638.1 532.0,637.9 533.4,633.3 534.8,638.0 536.1,642.2 537.5,633.3 538.9,637.5 540.2,633.3 541.6,628.4 543.0,633.1 544.3,633.3 545.7,637.8 547.0,633.1 548.4,633.0 549.8,633.1 551.1,637.7 552.5,642.2 553.9,633.0 555.2,637.6 556.6,633.4 557.9,633.3 559.3,633.4 560.7,633.4 562.0,637.6 563.4,633.2 564.8,638.1 566.1,632.9 567.5,637.6 568.8,633.1 570.2,633.4 571.6,638.1 572.9,637.9 574.3,633.3 575.6,633.1 577.0,637.7 578.4,637.6 579.7,633.0 581.1,633.1 582.5,633.3 583.8,633.3 585.2,633.1 586.5,633.5 587.9,633.0 589.3,637.9 590.6,633.4 592.0,633.3 593.4,633.2 594.7,633.1 596.1,632.9 597.5,638.0 598.8,628.5 600.2,633.3 601.5,638.0 602.9,637.9 604.3,633.0 605.6,637.6 607.0,633.0 608.4,628.6 609.7,633.3 611.1,633.1 612.4,637.9 613.8,638.1 615.2,633.1 616.5,633.1 617.9,633.3 619.2,633.4 620.6,633.0 622.0,642.4 623.3,637.9 624.7,628.4 626.1,633.2 627.4,633.2 628.8,637.9 630.1,633.0 631.5,637.7 632.9,637.6 634.2,628.6 635.6,633.1 637.0,635.0 638.3,636.4 639.7,636.2 641.0,637.4 642.4,638.1 643.8,639.1 645.1,640.8 646.5,641.4 647.9,642.8 649.2,643.7 650.6,645.5 652.0,647.0 653.3,648.0 654.7,648.7 656.0,649.1 657.4,649.6 658.8,650.3 660.1,650.5 661.5,649.3 662.9,648.5 664.2,647.1 665.6,645.9 666.9,644.2 668.3,641.9 669.7,639.1 671.0,635.9 672.4,633.3 673.8,630.7 675.1,627.2 676.5,623.6 677.8,620.1 679.2,616.8 680.6,613.1 681.9,609.4 683.3,606.2 684.6,603.7 686.0,600.9 687.4,597.3 688.7,595.6 690.1,593.6 691.5,592.7 692.8,590.6 694.2,590.1 695.5,590.4 696.9,590.0 698.3,591.4 699.6,593.1 701.0,595.3 702.4,599.0 703.7,602.6 705.1,607.4 706.5,613.6 707.8,619.4 709.2,625.3 710.5,631.9 711.9,638.7 713.3,645.2 714.6,652.6 716.0,659.0 717.4,665.6 718.7,672.1 720.1,677.8 721.4,682.4 722.8,687.2 724.2,691.6 725.5,695.7 726.9,698.5 728.2,699.8 729.6,701.0 731.0,702.2 732.3,701.3 733.7,699.3 735.1,697.6 736.4,693.5 737.8,690.1 739.1,685.1 740.5,679.3 741.9,673.1 743.2,666.5 744.6,660.1 746.0,652.5 747.3,644.4 748.7,637.2 750.0,630.2 751.4,622.0 752.8,615.4 754.1,608.8 755.5,602.3 756.9,596.7 758.2,592.2 759.6,587.3 761.0,584.0 762.3,581.6 763.7,579.5 765.0,578.2 766.4,578.3 767.8,580.3 769.1,583.5 770.5,588.0 771.9,594.3 773.2,600.4 774.6,608.1 775.9,617.0 777.3,626.0 778.7,636.2 780.0,645.3 781.4,654.8 782.8,664.2 784.1,673.4 785.5,681.3 786.8,688.4 788.2,693.4 789.6,698.1 790.9,701.4 792.3,702.8 793.6,702.9 795.0,701.2 796.4,697.4 797.7,692.1 799.1,685.3 800.5,676.4 801.8,666.9 803.2,656.5 804.5,644.1 805.9,632.3 807.3,620.6 808.6,607.9 810.0,595.6 811.4,584.9 812.7,574.2 814.1,564.3 815.5,556.7 816.8,549.7 818.2,543.6 819.5,540.8 820.9,539.2 822.3,538.6 823.6,541.5 825.0,545.6 826.4,552.2 827.7,561.4 829.1,572.5 830.4,584.7 831.8,597.6 833.2,613.2 834.5,627.7 835.9,644.2 837.2,660.9 838.6,677.4 840.0,692.6 841.3,707.3 842.7,721.8 844.1,735.0 845.4,746.2 846.8,755.2 848.1,762.1 849.5,767.9 850.9,770.6 852.2,771.7 853.6,770.0 855.0,764.9 856.3,757.8 857.7,747.5 859.0,734.6 860.4,719.8 861.8,702.8 863.1,683.8 864.5,663.8 865.9,644.1 867.2,623.0 868.6,602.0 870.0,582.1 871.3,562.5 872.7,544.9 874.0,528.5 875.4,515.3 876.8,503.9 878.1,494.4 879.5,488.7 880.9,484.9 882.2,485.8 883.6,488.2 884.9,493.9 886.3,501.8 887.7,512.5 889.0,525.0 890.4,540.2 891.8,555.7 893.1,574.5 894.5,592.8 895.8,612.1 897.2,631.8 898.6,651.1 899.9,669.6 901.3,687.0 902.6,703.4 904.0,717.6 905.4,730.3 906.7,741.1 908.1,748.3 909.5,752.9 910.8,755.5 912.2,754.5 913.5,751.3 914.9,746.0 916.3,737.7 917.6,727.6 919.0,715.0 920.4,701.1 921.7,685.5 923.1,669.7 924.5,652.6 925.8,635.5 927.2,619.1 928.5,603.5 929.9,588.2 931.3,574.2 932.6,563.5 934.0,552.9 935.4,545.6 936.7,541.1 938.1,538.7 939.4,539.6 940.8,542.5 942.2,547.3 943.5,555.9 944.9,565.2 946.2,577.5 947.6,589.9 949.0,605.2 950.3,620.1 951.7,634.7 953.1,649.7 954.4,663.6 955.8,676.7 957.1,687.9 958.5,696.1 959.9,703.2 961.2,708.5 962.6,710.1 964.0,709.0 965.3,707.2 966.7,702.7 968.0,697.3 969.4,690.4 970.8,682.0 972.1,672.3 973.5,661.5 974.9,649.1 976.2,637.0 977.6,624.2 979.0,612.9 980.3,600.5 981.7,589.0 983.0,577.4 984.4,567.9 985.8,559.2 987.1,551.8 988.5,545.5 989.9,541.6 991.2,538.8 992.6,538.8 993.9,540.4 995.3,545.9 996.7,553.8 998.0,564.6 999.4,577.1 1000.8,593.6 1002.1,609.9 1003.5,629.2 1004.8,647.9 1006.2,667.9 1007.6,687.2 1008.9,706.0 1010.3,723.5 1011.6,739.3 1013.0,752.5 1014.4,764.7 1015.7,773.2 1017.1,778.4 1018.5,781.6 1019.8,781.1 1021.2,778.5 1022.5,772.5 1023.9,764.4 1025.3,753.5 1026.6,740.0 1028.0,724.7 1029.4,707.9 1030.7,690.0 1032.1,670.7 1033.5,651.7 1034.8,631.9 1036.2,613.3 1037.5,595.0 1038.9,577.9 1040.3,561.8 1041.6,547.4 1043.0,535.0 1044.3,526.1 1045.7,519.3 1047.1,514.5 1048.4,512.7 1049.8,514.5 1051.2,518.6 1052.5,526.6 1053.9,536.1 1055.2,549.1 1056.6,563.0 1058.0,580.1 1059.3,597.0 1060.7,616.6 1062.1,634.6 1063.4,653.7 1064.8,672.5 1066.2,689.5 1067.5,704.3 1068.9,718.4 1070.2,729.9 1071.6,737.5 1073.0,744.1 1074.3,746.6 1075.7,747.2 1077.0,743.9 1078.4,739.0 1079.8,731.8 1081.1,722.3 1082.5,711.4 1083.9,697.7 1085.2,684.2 1086.6,668.1 1088.0,651.5 1089.3,635.6 1090.7,617.9 1092.0,601.3 1093.4,586.1 1094.8,571.1 1096.1,557.4 1097.5,545.0 1098.8,534.7 1100.2,526.3 1101.6,520.7 1102.9,516.5 1104.3,515.5 1105.7,516.7 1107.0,520.7 1108.4,527.5 1109.8,537.1 1111.1,549.8 1112.5,563.7 1113.8,579.7 1115.2,598.0 1116.6,616.1 1117.9,635.0 1119.3,652.5 1120.7,671.1 1122.0,687.8 1123.4,703.0 1124.7,716.2 1126.1,727.6 1127.5,735.6 1128.8,741.9 1130.2,745.0 1131.5,745.1 1132.9,742.2 1134.3,737.1 1135.6,729.5 1137.0,719.0 1138.4,708.1 1139.7,694.2 1141.1,678.8 1142.5,663.5 1143.8,646.5 1145.2,628.9 1146.5,611.1 1147.9,593.4 1149.3,577.1 1150.6,560.9 1152.0,546.7 1153.3,533.8 1154.7,523.3 1156.1,514.8 1157.4,508.2 1158.8,504.1 1160.2,502.0 1161.5,503.7 1162.9,508.4 1164.2,517.5 1165.6,527.9 1167.0,543.0 1168.3,559.4 1169.7,578.9 1171.1,599.1 1172.4,620.3 1173.8,642.6 1175.2,666.2 1176.5,688.1 1177.9,708.6 1179.2,728.9 1180.6,745.6 1182.0,761.1 1183.3,774.3 1184.7,783.8 1186.0,789.3 1187.4,792.8 1188.8,792.0 1190.1,788.5 1191.5,780.9 1192.9,772.1 1194.2,759.5 1195.6,745.4 1197.0,729.0 1198.3,711.7 1199.7,691.7 1201.0,671.2 1202.4,651.1 1203.8,629.5 1205.1,609.3 1206.5,589.9 1207.8,571.6 1209.2,554.8 1210.6,540.6 1211.9,527.7 1213.3,517.0 1214.7,510.0 1216.0,505.9 1217.4,504.5 1218.8,506.9 1220.1,511.4 1221.5,519.9 1222.8,530.4 1224.2,543.6 1225.6,559.3 1226.9,576.9 1228.3,595.9 1229.7,617.0 1231.0,637.0 1232.4,659.0 1233.7,679.7 1235.1,700.1 1236.5,718.4 1237.8,735.4 1239.2,750.8 1240.5,763.5 1241.9,774.4 1243.3,781.4 1244.6,785.6 1246.0,786.7 1247.4,785.3 1248.7,779.2 1250.1,770.0 1251.5,757.5 1252.8,741.7 1254.2,724.0 1255.5,704.5 1256.9,683.1 1258.3,660.1 1259.6,635.9 1261.0,611.7 1262.3,586.8 1263.7,563.4 1265.1,540.7 1266.4,519.9 1267.8,502.0 1269.2,485.6 1270.5,472.5 1271.9,461.7 1273.2,455.0 1274.6,451.5 1276.0,451.4 1277.3,454.5 1278.7,461.3 1280.1,470.5 1281.4,482.4 1282.8,497.3 1284.2,513.5 1285.5,532.5 1286.9,553.0 1288.2,574.2 1289.6,596.6 1291.0,617.9 1292.3,639.7 1293.7,661.2 1295.0,680.7 1296.4,699.1 1297.8,715.8 1299.1,729.6 1300.5,741.6 1301.9,749.7 1303.2,755.8 1304.6,757.9 1306.0,756.8 1307.3,753.3 1308.7,747.6 1310.0,739.2 1311.4,728.9 1312.8,717.6 1314.1,703.1 1315.5,687.8 1316.8,671.3 1318.2,654.1 1319.6,636.4 1320.9,618.0 1322.3,600.8 1323.7,584.5 1325.0,568.8 1326.4,555.2 1327.8,542.2 1329.1,532.4 1330.5,523.9 1331.8,517.9 1333.2,514.2 1334.6,513.4 1335.9,514.3 1337.3,519.3 1338.7,525.1 1340.0,534.1 1341.4,545.1 1342.7,558.9 1344.1,572.9 1345.5,588.8 1346.8,605.6 1348.2,622.8 1349.5,640.5 1350.9,657.1 1352.3,674.4 1353.6,689.1 1355.0,703.9 1356.4,716.0 1357.7,726.0 1359.1,734.3 1360.5,741.2 1361.8,744.4 1363.2,745.1 1364.5,744.5 1365.9,742.2 1367.3,739.3 1368.6,734.3 1370.0,729.5 1371.3,723.0 1372.7,715.5 1374.1,707.8 1375.4,700.2 1376.8,691.9 1378.2,683.5 1379.5,675.1 1380.9,666.9 1382.2,658.2 1383.6,651.1 1385.0,644.9 1386.3,638.7 1387.7,633.6 1389.1,630.5 1390.4,627.5 1391.8,626.5 1393.2,626.3 1394.5,627.2 1395.9,629.9 1397.2,633.2 1398.6,637.9 1400.0,642.1 1401.3,647.0 1402.7,652.6 1404.0,655.4 1405.4,659.1 1406.8,660.4 1408.1,659.7 1409.5,658.5 1410.9,656.2 1412.2,653.9 1413.6,650.2 1415.0,644.8 1416.3,639.8 1417.7,633.5 1419.0,627.5 1420.4,621.6 1421.8,615.0 1423.1,609.0 1424.5,603.6 1425.8,598.2 1427.2,594.4 1428.6,591.1 1429.9,588.5 1431.3,586.7 1432.7,586.5 1434.0,587.2 1435.4,588.2 1436.8,592.2 1438.1,596.2 1439.5,602.3 1440.8,609.4 1442.2,616.8 1443.6,625.4 1444.9,634.3 1446.3,644.0 1447.7,652.8 1449.0,661.6 1450.4,670.9 1451.7,679.7 1453.1,686.7 1454.5,694.2 1455.8,699.2 1457.2,704.4 1458.5,707.6 1459.9,709.8 1461.3,709.8 1462.6,708.7 1464.0,705.2 1465.4,700.7 1466.7,693.4 1468.1,683.5 1469.5,673.4 1470.8,661.5 1472.2,648.3 1473.5,634.3 1474.9,619.6 1476.3,604.0 1477.6,589.9 1479.0,575.2 1480.3,562.1 1481.7,548.6 1483.1,537.2 1484.4,527.3 1485.8,518.9 1487.2,512.2 1488.5,508.0 1489.9,504.6 1491.2,505.1 1492.6,507.0 1494.0,512.7 1495.3,521.3 1496.7,531.9 1498.1,545.6 1499.4,562.3 1500.8,579.9 1502.2,599.1 1503.5,618.7 1504.9,639.5 1506.2,661.0 1507.6,681.2 1509.0,702.3 1510.3,720.9 1511.7,738.0 1513.0,754.6 1514.4,767.5 1515.8,778.9 1517.1,787.6 1518.5,792.8 1519.9,795.5 1521.2,795.1 1522.6,791.3 1524.0,786.0 1525.3,776.9 1526.7,766.3 1528.0,753.5 1529.4,738.0 1530.8,721.6 1532.1,702.6 1533.5,684.3 1534.8,663.9 1536.2,644.1 1537.6,623.0 1538.9,603.7 1540.3,585.1 1541.7,567.1 1543.0,549.9 1544.4,535.8 1545.8,521.9 1547.1,512.6 1548.5,503.7 1549.8,498.6 1551.2,495.4 1552.6,495.8 1553.9,499.0 1555.3,504.2 1556.7,513.2 1558.0,525.4 1559.4,538.5 1560.7,554.1 1562.1,573.1 1563.5,591.9 1564.8,612.1 1566.2,633.3 1567.5,653.5 1568.9,674.4 1570.3,694.1 1571.6,712.8 1573.0,731.2 1574.4,745.8 1575.7,760.0 1577.1,770.2 1578.5,778.6 1579.8,783.1 1581.2,785.6 1582.5,785.4 1583.9,781.6 1585.3,775.2 1586.6,766.5 1588.0,755.4 1589.3,742.3 1590.7,727.7 1592.1,710.0 1593.4,692.3 1594.8,672.7 1596.2,652.1 1597.5,631.8 1598.9,611.8 1600.2,592.3 1601.6,573.2 1603.0,555.3 1604.3,538.8 1605.7,523.6 1607.1,511.1 1608.4,500.6 1609.8,493.1 1611.2,487.5 1612.5,484.8 1613.9,485.0 1615.2,486.8 1616.6,491.8 1618.0,497.9 1619.3,506.7 1620.7,516.7 1622.0,529.2 1623.4,542.2 1624.8,557.4 1626.1,572.7 1627.5,587.8 1628.9,603.9 1630.2,620.3 1631.6,636.7 1633.0,652.0 1634.3,666.5 1635.7,680.2 1637.0,692.0 1638.4,702.7 1639.8,711.3 1641.1,718.5 1642.5,723.4 1643.8,725.1 1645.2,726.5 1646.6,724.2 1647.9,721.3 1649.3,716.3 1650.7,710.3 1652.0,702.1 1653.4,693.3 1654.8,682.8 1656.1,670.6 1657.5,658.7 1658.8,646.2 1660.2,633.4 1661.6,620.5 1662.9,607.6 1664.3,594.7 1665.7,583.4 1667.0,572.3 1668.4,562.5 1669.7,553.5 1671.1,545.5 1672.5,540.8 1673.8,535.6 1675.2,533.5 1676.5,533.0 1677.9,533.4 1679.3,536.1 1680.6,540.2 1682.0,546.9 1683.4,553.8 1684.7,562.2 1686.1,571.0 1687.5,581.0 1688.8,591.8 1690.2,604.3 1691.5,615.9 1692.9,627.5 1694.3,638.8 1695.6,649.1 1697.0,660.3 1698.3,669.6 1699.7,678.6 1701.1,685.0 1702.4,691.7 1703.8,696.2 1705.2,698.7 1706.5,700.3 1707.9,699.7 1709.2,698.5 1710.6,696.9 1712.0,692.2 1713.3,688.4 1714.7,682.0 1716.1,676.1 1717.4,668.6 1718.8,660.0 1720.2,651.9 1721.5,642.7 1722.9,634.6 1724.2,625.2 1725.6,616.4 1727.0,608.7 1728.3,600.0 1729.7,592.9 1731.0,586.5 1732.4,580.6 1733.8,576.6 1735.1,572.8 1736.5,570.0 1737.9,569.1 1739.2,569.5 1740.6,570.5 1742.0,572.1 1743.3,575.6 1744.7,579.8 1746.0,585.6 1747.4,590.5 1748.8,598.1 1750.1,604.9 1751.5,613.2 1752.8,621.5 1754.2,629.5 1755.6,637.9 1756.9,647.0 1758.3,654.7 1759.7,662.3 1761.0,670.5 1762.4,677.0 1763.8,682.8 1765.1,687.3 1766.5,692.3 1767.8,695.4 1769.2,697.1 1770.6,697.6 1771.9,698.2 1773.3,696.4 1774.7,694.3 1776.0,690.6 1777.4,687.3 1778.7,682.2 1780.1,675.4 1781.5,669.1 1782.8,662.1 1784.2,654.9 1785.5,647.7 1786.9,639.4 1788.3,631.9 1789.6,624.8 1791.0,617.8 1792.4,610.7 1793.7,604.4 1795.1,599.0 1796.5,594.4 1797.8,590.5 1799.2,587.5 1800.5,586.3 1801.9,584.4 1803.3,585.2 1804.6,586.2 1806.0,588.9 1807.3,591.5 1808.7,595.2 1810.1,599.2 1811.4,604.0 1812.8,609.1 1814.2,615.6 1815.5,621.6 1816.9,627.9 1818.2,633.7 1819.6,639.3 1821.0,645.6 1822.3,650.8 1823.7,656.6 1825.1,660.8 1826.4,665.3 1827.8,667.6 1829.2,669.7 1830.5,671.4 1831.9,672.5 1833.2,672.0 1834.6,670.8 1836.0,669.4 1837.3,666.1 1838.7,663.9 1840.0,660.1 1841.4,656.2 1842.8,651.9 1844.1,646.2 1845.5,641.4"/>
</g>
<rect x="248.0" y="699.8" width="419.3" height="616.2" fill="#ffffff" stroke="#262626" stroke-width="3" shape-rendering="crispEdges"/>
<path d="M246.5 698.3V1317.5" stroke="#262626" stroke-width="1" shape-rendering="crispEdges"/>
<g fill="none" shape-rendering="crispEdges">
<path stroke="#000000" stroke-width="6" d="M262.8 759H376.1"/>
<path stroke="#0000ff" stroke-width="6" stroke-dasharray="21 19" d="M262.8 858.5H376.1"/>
<path stroke="#00ff00" stroke-width="6" stroke-dasharray="6 4" d="M262.8 958H376.1"/>
<path stroke="#00ffff" stroke-width="6" stroke-dasharray="21 4 11 4" d="M262.8 1058H376.1"/>
<path stroke="#ff00ff" stroke-width="6" d="M262.8 1157H376.1"/>
<path stroke="#ff0000" stroke-width="6" d="M262.8 1257H376.1"/>
</g>
<circle cx="319.6" cy="1157" r="5" fill="#ff00ff" shape-rendering="crispEdges"/>
<rect x="314.9" y="1252.3" width="9.4" height="9.4" fill="#ff0000" shape-rendering="crispEdges"/>
<g font-family='"Liberation Sans", Arial, Helvetica, sans-serif' font-size="50.3" fill="#000000">
<text x="386" y="778.7">0 cycle</text>
<text x="386" y="877.4">1000 cycles</text>
<text x="386" y="977.3">2000 cycles</text>
<text x="386" y="1076.5">3000 cycles</text>
<text x="386" y="1176.4">4000 cycles</text>
<text x="386" y="1276.3">5000 cycles</text>
</g>
<g font-family='"Liberation Sans", Arial, Helvetica, sans-serif' font-size="55.3" fill="#262626">
<g text-anchor="middle">
<text transform="translate(209.0 1399.8) scale(1.005 1.025)">0</text>
<text transform="translate(481.5 1399.8) scale(1.005 1.025)">20</text>
<text transform="translate(754.0 1399.8) scale(1.005 1.025)">40</text>
<text transform="translate(1026.5 1399.8) scale(1.005 1.025)">60</text>
<text transform="translate(1299.0 1399.8) scale(1.005 1.025)">80</text>
<text transform="translate(1571.5 1399.8) scale(1.005 1.025)">100</text>
<text transform="translate(1844.0 1399.8) scale(1.005 1.025)">120</text>
</g><g text-anchor="end">
<text transform="translate(188.3 56.6) scale(1.005 1.025)">1.5</text>
<text transform="translate(188.3 251.6) scale(1.005 1.025)">1</text>
<text transform="translate(188.3 446.6) scale(1.005 1.025)">0.5</text>
<text transform="translate(188.3 641.6) scale(1.005 1.025)">0</text>
<text transform="translate(188.3 836.6) scale(1.005 1.025)">-0.5</text>
<text transform="translate(188.3 1031.6) scale(1.005 1.025)">-1</text>
<text transform="translate(188.3 1226.6) scale(1.005 1.025)">-1.5</text>
</g></g>
<g font-family='"Liberation Sans", Arial, Helvetica, sans-serif' font-size="60.3" fill="#262626">
<text y="1481.9"><tspan x="898">Time (</tspan><tspan x="1072" font-style="italic">μ</tspan><tspan x="1108">s)</tspan></text>
<text transform="translate(63.4 678.8) rotate(-90)" text-anchor="middle">Amplitude (V)</text>
</g>
<text y="1582" font-family='"Liberation Serif", "Times New Roman", serif' font-size="85" fill="#000000"><tspan x="942.8" textLength="24.9" lengthAdjust="spacingAndGlyphs">(</tspan><tspan x="969" font-weight="bold" font-size="83">a</tspan><tspan x="1012.2" textLength="24.9" lengthAdjust="spacingAndGlyphs">)</tspan></text>
</svg>
</body>
</html>
